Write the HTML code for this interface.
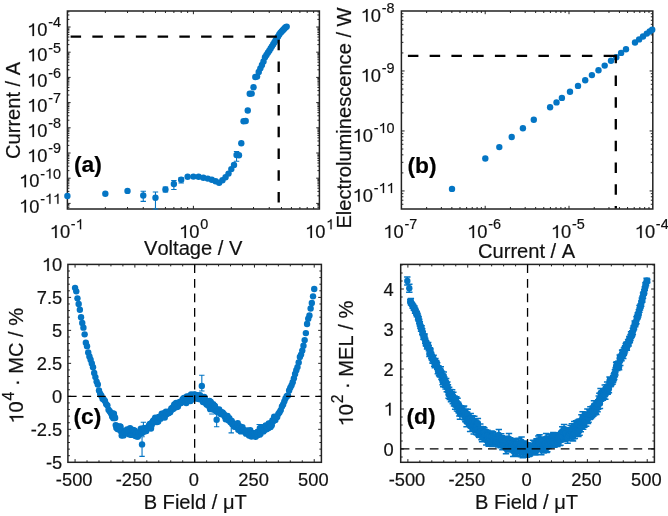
<!DOCTYPE html>
<html><head><meta charset="utf-8"><style>
html,body{margin:0;padding:0;background:#fff;}
svg{display:block;will-change:transform;}
</style></head><body>
<svg width="668" height="516" viewBox="0 0 668 516">
<rect width="668" height="516" fill="#fff"/>
<path d="M105.33 209v-2.0M105.33 11v2.0M127.52 209v-2.0M127.52 11v2.0M143.26 209v-2.0M143.26 11v2.0M155.47 209v-2.0M155.47 11v2.0M165.45 209v-2.0M165.45 11v2.0M173.88 209v-2.0M173.88 11v2.0M181.19 209v-2.0M181.19 11v2.0M187.63 209v-2.0M187.63 11v2.0M231.33 209v-2.0M231.33 11v2.0M253.52 209v-2.0M253.52 11v2.0M269.26 209v-2.0M269.26 11v2.0M281.47 209v-2.0M281.47 11v2.0M291.45 209v-2.0M291.45 11v2.0M299.88 209v-2.0M299.88 11v2.0M307.19 209v-2.0M307.19 11v2.0M313.63 209v-2.0M313.63 11v2.0M193.4 209v-3.2M193.4 11v3.2M67.4 207.3h2.0M319.4 207.3h-2.0M67.4 205.84h2.0M319.4 205.84h-2.0M67.4 204.55h2.0M319.4 204.55h-2.0M67.4 195.81h2.0M319.4 195.81h-2.0M67.4 191.38h2.0M319.4 191.38h-2.0M67.4 188.23h2.0M319.4 188.23h-2.0M67.4 185.79h2.0M319.4 185.79h-2.0M67.4 183.79h2.0M319.4 183.79h-2.0M67.4 182.1h2.0M319.4 182.1h-2.0M67.4 180.64h2.0M319.4 180.64h-2.0M67.4 179.35h2.0M319.4 179.35h-2.0M67.4 170.61h2.0M319.4 170.61h-2.0M67.4 166.18h2.0M319.4 166.18h-2.0M67.4 163.03h2.0M319.4 163.03h-2.0M67.4 160.59h2.0M319.4 160.59h-2.0M67.4 158.59h2.0M319.4 158.59h-2.0M67.4 156.9h2.0M319.4 156.9h-2.0M67.4 155.44h2.0M319.4 155.44h-2.0M67.4 154.15h2.0M319.4 154.15h-2.0M67.4 145.41h2.0M319.4 145.41h-2.0M67.4 140.98h2.0M319.4 140.98h-2.0M67.4 137.83h2.0M319.4 137.83h-2.0M67.4 135.39h2.0M319.4 135.39h-2.0M67.4 133.39h2.0M319.4 133.39h-2.0M67.4 131.7h2.0M319.4 131.7h-2.0M67.4 130.24h2.0M319.4 130.24h-2.0M67.4 128.95h2.0M319.4 128.95h-2.0M67.4 120.21h2.0M319.4 120.21h-2.0M67.4 115.78h2.0M319.4 115.78h-2.0M67.4 112.63h2.0M319.4 112.63h-2.0M67.4 110.19h2.0M319.4 110.19h-2.0M67.4 108.19h2.0M319.4 108.19h-2.0M67.4 106.5h2.0M319.4 106.5h-2.0M67.4 105.04h2.0M319.4 105.04h-2.0M67.4 103.75h2.0M319.4 103.75h-2.0M67.4 95.01h2.0M319.4 95.01h-2.0M67.4 90.58h2.0M319.4 90.58h-2.0M67.4 87.43h2.0M319.4 87.43h-2.0M67.4 84.99h2.0M319.4 84.99h-2.0M67.4 82.99h2.0M319.4 82.99h-2.0M67.4 81.3h2.0M319.4 81.3h-2.0M67.4 79.84h2.0M319.4 79.84h-2.0M67.4 78.55h2.0M319.4 78.55h-2.0M67.4 69.81h2.0M319.4 69.81h-2.0M67.4 65.38h2.0M319.4 65.38h-2.0M67.4 62.23h2.0M319.4 62.23h-2.0M67.4 59.79h2.0M319.4 59.79h-2.0M67.4 57.79h2.0M319.4 57.79h-2.0M67.4 56.1h2.0M319.4 56.1h-2.0M67.4 54.64h2.0M319.4 54.64h-2.0M67.4 53.35h2.0M319.4 53.35h-2.0M67.4 44.61h2.0M319.4 44.61h-2.0M67.4 40.18h2.0M319.4 40.18h-2.0M67.4 37.03h2.0M319.4 37.03h-2.0M67.4 34.59h2.0M319.4 34.59h-2.0M67.4 32.59h2.0M319.4 32.59h-2.0M67.4 30.9h2.0M319.4 30.9h-2.0M67.4 29.44h2.0M319.4 29.44h-2.0M67.4 28.15h2.0M319.4 28.15h-2.0M67.4 19.41h2.0M319.4 19.41h-2.0M67.4 14.98h2.0M319.4 14.98h-2.0M67.4 11.83h2.0M319.4 11.83h-2.0M67.4 203.4h3.2M319.4 203.4h-3.2M67.4 178.2h3.2M319.4 178.2h-3.2M67.4 153h3.2M319.4 153h-3.2M67.4 127.8h3.2M319.4 127.8h-3.2M67.4 102.6h3.2M319.4 102.6h-3.2M67.4 77.4h3.2M319.4 77.4h-3.2M67.4 52.2h3.2M319.4 52.2h-3.2M67.4 27h3.2M319.4 27h-3.2" stroke="#222222" stroke-width="1.0" fill="none"/>
<rect x="67.4" y="11" width="252" height="198" fill="none" stroke="#222222" stroke-width="1.5"/>
<path d="M426.63 209v-2.0M426.63 11v2.0M441.38 209v-2.0M441.38 11v2.0M451.85 209v-2.0M451.85 11v2.0M459.97 209v-2.0M459.97 11v2.0M466.61 209v-2.0M466.61 11v2.0M472.22 209v-2.0M472.22 11v2.0M477.08 209v-2.0M477.08 11v2.0M481.37 209v-2.0M481.37 11v2.0M510.43 209v-2.0M510.43 11v2.0M525.18 209v-2.0M525.18 11v2.0M535.65 209v-2.0M535.65 11v2.0M543.77 209v-2.0M543.77 11v2.0M550.41 209v-2.0M550.41 11v2.0M556.02 209v-2.0M556.02 11v2.0M560.88 209v-2.0M560.88 11v2.0M565.17 209v-2.0M565.17 11v2.0M594.23 209v-2.0M594.23 11v2.0M608.98 209v-2.0M608.98 11v2.0M619.45 209v-2.0M619.45 11v2.0M627.57 209v-2.0M627.57 11v2.0M634.21 209v-2.0M634.21 11v2.0M639.82 209v-2.0M639.82 11v2.0M644.68 209v-2.0M644.68 11v2.0M648.97 209v-2.0M648.97 11v2.0M485.2 209v-3.2M485.2 11v3.2M569 209v-3.2M569 11v3.2M401.4 204.25h2.0M652.8 204.25h-2.0M401.4 200.23h2.0M652.8 200.23h-2.0M401.4 196.75h2.0M652.8 196.75h-2.0M401.4 193.68h2.0M652.8 193.68h-2.0M401.4 172.88h2.0M652.8 172.88h-2.0M401.4 162.32h2.0M652.8 162.32h-2.0M401.4 154.83h2.0M652.8 154.83h-2.0M401.4 149.02h2.0M652.8 149.02h-2.0M401.4 144.27h2.0M652.8 144.27h-2.0M401.4 140.25h2.0M652.8 140.25h-2.0M401.4 136.77h2.0M652.8 136.77h-2.0M401.4 133.7h2.0M652.8 133.7h-2.0M401.4 112.9h2.0M652.8 112.9h-2.0M401.4 102.34h2.0M652.8 102.34h-2.0M401.4 94.85h2.0M652.8 94.85h-2.0M401.4 89.04h2.0M652.8 89.04h-2.0M401.4 84.29h2.0M652.8 84.29h-2.0M401.4 80.27h2.0M652.8 80.27h-2.0M401.4 76.79h2.0M652.8 76.79h-2.0M401.4 73.72h2.0M652.8 73.72h-2.0M401.4 52.92h2.0M652.8 52.92h-2.0M401.4 42.36h2.0M652.8 42.36h-2.0M401.4 34.87h2.0M652.8 34.87h-2.0M401.4 29.06h2.0M652.8 29.06h-2.0M401.4 24.31h2.0M652.8 24.31h-2.0M401.4 20.29h2.0M652.8 20.29h-2.0M401.4 16.81h2.0M652.8 16.81h-2.0M401.4 13.74h2.0M652.8 13.74h-2.0M401.4 190.94h3.2M652.8 190.94h-3.2M401.4 130.96h3.2M652.8 130.96h-3.2M401.4 70.98h3.2M652.8 70.98h-3.2" stroke="#222222" stroke-width="1.0" fill="none"/>
<rect x="401.4" y="11" width="251.4" height="198" fill="none" stroke="#222222" stroke-width="1.5"/>
<path d="M87.03 462.3v-2.0M87.03 264.4v2.0M98.99 462.3v-2.0M98.99 264.4v2.0M110.95 462.3v-2.0M110.95 264.4v2.0M122.9 462.3v-2.0M122.9 264.4v2.0M146.82 462.3v-2.0M146.82 264.4v2.0M158.78 462.3v-2.0M158.78 264.4v2.0M170.73 462.3v-2.0M170.73 264.4v2.0M182.69 462.3v-2.0M182.69 264.4v2.0M206.61 462.3v-2.0M206.61 264.4v2.0M218.57 462.3v-2.0M218.57 264.4v2.0M230.52 462.3v-2.0M230.52 264.4v2.0M242.48 462.3v-2.0M242.48 264.4v2.0M266.4 462.3v-2.0M266.4 264.4v2.0M278.35 462.3v-2.0M278.35 264.4v2.0M290.31 462.3v-2.0M290.31 264.4v2.0M302.27 462.3v-2.0M302.27 264.4v2.0M75.07 462.3v-3.2M75.07 264.4v3.2M134.86 462.3v-3.2M134.86 264.4v3.2M194.65 462.3v-3.2M194.65 264.4v3.2M254.44 462.3v-3.2M254.44 264.4v3.2M314.23 462.3v-3.2M314.23 264.4v3.2M67.9 455.7h2.0M321.4 455.7h-2.0M67.9 449.11h2.0M321.4 449.11h-2.0M67.9 442.51h2.0M321.4 442.51h-2.0M67.9 435.91h2.0M321.4 435.91h-2.0M67.9 422.72h2.0M321.4 422.72h-2.0M67.9 416.12h2.0M321.4 416.12h-2.0M67.9 409.53h2.0M321.4 409.53h-2.0M67.9 402.93h2.0M321.4 402.93h-2.0M67.9 389.74h2.0M321.4 389.74h-2.0M67.9 383.14h2.0M321.4 383.14h-2.0M67.9 376.54h2.0M321.4 376.54h-2.0M67.9 369.95h2.0M321.4 369.95h-2.0M67.9 356.75h2.0M321.4 356.75h-2.0M67.9 350.16h2.0M321.4 350.16h-2.0M67.9 343.56h2.0M321.4 343.56h-2.0M67.9 336.96h2.0M321.4 336.96h-2.0M67.9 323.77h2.0M321.4 323.77h-2.0M67.9 317.17h2.0M321.4 317.17h-2.0M67.9 310.58h2.0M321.4 310.58h-2.0M67.9 303.98h2.0M321.4 303.98h-2.0M67.9 290.79h2.0M321.4 290.79h-2.0M67.9 284.19h2.0M321.4 284.19h-2.0M67.9 277.59h2.0M321.4 277.59h-2.0M67.9 271h2.0M321.4 271h-2.0M67.9 429.32h3.2M321.4 429.32h-3.2M67.9 396.33h3.2M321.4 396.33h-3.2M67.9 363.35h3.2M321.4 363.35h-3.2M67.9 330.37h3.2M321.4 330.37h-3.2M67.9 297.38h3.2M321.4 297.38h-3.2" stroke="#222222" stroke-width="1.0" fill="none"/>
<rect x="67.9" y="264.4" width="253.5" height="197.9" fill="none" stroke="#222222" stroke-width="1.5"/>
<path d="M419.85 462.3v-2.0M419.85 264.4v2.0M431.81 462.3v-2.0M431.81 264.4v2.0M443.78 462.3v-2.0M443.78 264.4v2.0M455.75 462.3v-2.0M455.75 264.4v2.0M479.68 462.3v-2.0M479.68 264.4v2.0M491.65 462.3v-2.0M491.65 264.4v2.0M503.62 462.3v-2.0M503.62 264.4v2.0M515.58 462.3v-2.0M515.58 264.4v2.0M539.52 462.3v-2.0M539.52 264.4v2.0M551.48 462.3v-2.0M551.48 264.4v2.0M563.45 462.3v-2.0M563.45 264.4v2.0M575.42 462.3v-2.0M575.42 264.4v2.0M599.35 462.3v-2.0M599.35 264.4v2.0M611.32 462.3v-2.0M611.32 264.4v2.0M623.29 462.3v-2.0M623.29 264.4v2.0M635.25 462.3v-2.0M635.25 264.4v2.0M407.88 462.3v-3.2M407.88 264.4v3.2M467.72 462.3v-3.2M467.72 264.4v3.2M527.55 462.3v-3.2M527.55 264.4v3.2M587.38 462.3v-3.2M587.38 264.4v3.2M647.22 462.3v-3.2M647.22 264.4v3.2M400.7 457h2.0M654.4 457h-2.0M400.7 441h2.0M654.4 441h-2.0M400.7 433h2.0M654.4 433h-2.0M400.7 425h2.0M654.4 425h-2.0M400.7 417h2.0M654.4 417h-2.0M400.7 401h2.0M654.4 401h-2.0M400.7 393h2.0M654.4 393h-2.0M400.7 385h2.0M654.4 385h-2.0M400.7 377h2.0M654.4 377h-2.0M400.7 361h2.0M654.4 361h-2.0M400.7 353h2.0M654.4 353h-2.0M400.7 345h2.0M654.4 345h-2.0M400.7 337h2.0M654.4 337h-2.0M400.7 321h2.0M654.4 321h-2.0M400.7 313h2.0M654.4 313h-2.0M400.7 305h2.0M654.4 305h-2.0M400.7 297h2.0M654.4 297h-2.0M400.7 281h2.0M654.4 281h-2.0M400.7 273h2.0M654.4 273h-2.0M400.7 265h2.0M654.4 265h-2.0M400.7 449h3.2M654.4 449h-3.2M400.7 409h3.2M654.4 409h-3.2M400.7 369h3.2M654.4 369h-3.2M400.7 329h3.2M654.4 329h-3.2M400.7 289h3.2M654.4 289h-3.2" stroke="#222222" stroke-width="1.0" fill="none"/>
<rect x="400.7" y="264.4" width="253.7" height="197.9" fill="none" stroke="#222222" stroke-width="1.5"/>
<g fill="#0475C4">
<circle cx="67.4" cy="196" r="3.2"/><circle cx="105.33" cy="193.7" r="3.2"/><circle cx="127.52" cy="190.9" r="3.2"/><circle cx="143.26" cy="195.5" r="3.2"/><circle cx="155.47" cy="197.8" r="3.2"/><circle cx="165.45" cy="189.5" r="3.2"/><circle cx="173.88" cy="184" r="3.2"/><circle cx="181.19" cy="179.8" r="3.2"/><circle cx="187.63" cy="176.7" r="3.2"/><circle cx="193.4" cy="176.6" r="3.2"/><circle cx="198.62" cy="176.7" r="3.2"/><circle cx="203.38" cy="177.7" r="3.2"/><circle cx="207.76" cy="178.6" r="3.2"/><circle cx="211.81" cy="179.7" r="3.2"/><circle cx="215.59" cy="181.2" r="3.2"/><circle cx="219.12" cy="182.8" r="3.2"/><circle cx="222.44" cy="180.3" r="3.2"/><circle cx="225.56" cy="177.2" r="3.2"/><circle cx="228.52" cy="173.6" r="3.2"/><circle cx="231.33" cy="169.1" r="3.2"/><circle cx="234" cy="164.9" r="3.2"/><circle cx="236.55" cy="155" r="3.2"/><circle cx="238.98" cy="155.2" r="3.2"/><circle cx="241.31" cy="143.3" r="3.2"/><circle cx="243.54" cy="121.2" r="3.2"/><circle cx="245.69" cy="121" r="3.2"/><circle cx="247.75" cy="110.5" r="3.2"/><circle cx="249.74" cy="93.8" r="3.2"/><circle cx="251.66" cy="93.6" r="3.2"/><circle cx="253.52" cy="87.2" r="3.2"/><circle cx="255.31" cy="77" r="3.2"/><circle cx="257.05" cy="76.6" r="3.2"/><circle cx="258.73" cy="71.93" r="3.2"/><circle cx="260.37" cy="68.36" r="3.2"/><circle cx="261.95" cy="64.89" r="3.2"/><circle cx="263.49" cy="61.51" r="3.2"/><circle cx="264.99" cy="57.21" r="3.2"/><circle cx="266.45" cy="54.99" r="3.2"/><circle cx="267.87" cy="52.82" r="3.2"/><circle cx="269.26" cy="50.72" r="3.2"/><circle cx="270.61" cy="48.54" r="3.2"/><circle cx="271.93" cy="46.37" r="3.2"/><circle cx="273.22" cy="44.26" r="3.2"/><circle cx="274.48" cy="42.19" r="3.2"/><circle cx="275.7" cy="40.19" r="3.2"/><circle cx="276.91" cy="38.27" r="3.2"/><circle cx="278.08" cy="36.39" r="3.2"/><circle cx="279.24" cy="34.54" r="3.2"/><circle cx="280.36" cy="32.83" r="3.2"/><circle cx="281.47" cy="31.67" r="3.2"/><circle cx="282.55" cy="30.53" r="3.2"/><circle cx="283.62" cy="29.42" r="3.2"/><circle cx="284.66" cy="28.32" r="3.2"/><circle cx="285.68" cy="27.25" r="3.2"/><circle cx="286.69" cy="26.6" r="3.2"/>
</g>
<path d="M143.26 191.3V201.4M140.56 191.3h5.4M140.56 201.4h5.4M155.47 192V209M152.77 192h5.4M152.77 209h5.4M165.45 187V192M162.75 187h5.4M162.75 192h5.4M173.88 180.5V189.5M171.18 180.5h5.4M171.18 189.5h5.4M181.19 177.7V183M178.49 177.7h5.4M178.49 183h5.4M236.55 151.5V161.2M233.85 151.5h5.4M233.85 161.2h5.4" stroke="#0475C4" stroke-width="1.1" fill="none"/>
<g fill="#0475C4">
<circle cx="452" cy="188.9" r="3.2"/><circle cx="485.3" cy="158.5" r="3.2"/><circle cx="499.3" cy="147.1" r="3.2"/><circle cx="511.7" cy="137" r="3.2"/><circle cx="522.9" cy="128.3" r="3.2"/><circle cx="533.8" cy="119.8" r="3.2"/><circle cx="550.1" cy="107.2" r="3.2"/><circle cx="556.5" cy="102.4" r="3.2"/><circle cx="561.9" cy="97.9" r="3.2"/><circle cx="570" cy="91.7" r="3.2"/><circle cx="578" cy="85.9" r="3.2"/><circle cx="585.2" cy="80.3" r="3.2"/><circle cx="591.9" cy="75.1" r="3.2"/><circle cx="598.5" cy="70.2" r="3.2"/><circle cx="604.7" cy="65.6" r="3.2"/><circle cx="611" cy="60.8" r="3.2"/><circle cx="616.3" cy="57.3" r="3.2"/><circle cx="621.1" cy="52.9" r="3.2"/><circle cx="626" cy="49.3" r="3.2"/><circle cx="635" cy="42.5" r="3.2"/><circle cx="639.1" cy="39.4" r="3.2"/><circle cx="643" cy="36.5" r="3.2"/><circle cx="646.8" cy="33.6" r="3.2"/><circle cx="649.7" cy="31.4" r="3.2"/><circle cx="652.2" cy="29.7" r="3.2"/>
</g>
<path d="M142.04 436.8V456.4M139.34 436.8h5.4M139.34 456.4h5.4M201.82 375.2V391M199.12 375.2h5.4M199.12 391h5.4M216.65 413.5V426.7M213.95 413.5h5.4M213.95 426.7h5.4M143.4 422.2V434M140.7 422.2h5.4M140.7 434h5.4M231.24 420V432.9M228.54 420h5.4M228.54 432.9h5.4M259.22 424.5V437M256.52 424.5h5.4M256.52 437h5.4M211.87 414V414M209.17 414h5.4M209.17 414h5.4" stroke="#0475C4" stroke-width="1.1" fill="none"/>
<g fill="#0475C4">
<circle cx="75.07" cy="287.87" r="3.2"/><circle cx="76.27" cy="291.35" r="3.2"/><circle cx="77.47" cy="298.37" r="3.2"/><circle cx="78.66" cy="303.97" r="3.2"/><circle cx="79.86" cy="309.8" r="3.2"/><circle cx="81.05" cy="317.26" r="3.2"/><circle cx="82.25" cy="322.89" r="3.2"/><circle cx="83.44" cy="327.63" r="3.2"/><circle cx="84.64" cy="334.36" r="3.2"/><circle cx="85.84" cy="342.69" r="3.2"/><circle cx="87.03" cy="346.16" r="3.2"/><circle cx="88.23" cy="352.49" r="3.2"/><circle cx="89.42" cy="356.55" r="3.2"/><circle cx="90.62" cy="359.74" r="3.2"/><circle cx="91.82" cy="363.48" r="3.2"/><circle cx="93.01" cy="367.23" r="3.2"/><circle cx="94.21" cy="372.91" r="3.2"/><circle cx="95.4" cy="377.12" r="3.2"/><circle cx="96.6" cy="381.58" r="3.2"/><circle cx="97.79" cy="384.56" r="3.2"/><circle cx="98.99" cy="390.52" r="3.2"/><circle cx="100.19" cy="393.68" r="3.2"/><circle cx="101.38" cy="395.74" r="3.2"/><circle cx="102.58" cy="398.69" r="3.2"/><circle cx="103.77" cy="399.52" r="3.2"/><circle cx="104.97" cy="401.07" r="3.2"/><circle cx="106.16" cy="404.09" r="3.2"/><circle cx="107.36" cy="405.35" r="3.2"/><circle cx="108.56" cy="409.74" r="3.2"/><circle cx="109.75" cy="411.15" r="3.2"/><circle cx="110.95" cy="413.17" r="3.2"/><circle cx="112.14" cy="416.48" r="3.2"/><circle cx="112.74" cy="413.54" r="3.2"/><circle cx="113.34" cy="418.15" r="3.2"/><circle cx="113.94" cy="413.66" r="3.2"/><circle cx="114.53" cy="416.86" r="3.2"/><circle cx="115.13" cy="417.94" r="3.2"/><circle cx="115.73" cy="425.11" r="3.2"/><circle cx="116.33" cy="427.79" r="3.2"/><circle cx="116.93" cy="425.91" r="3.2"/><circle cx="117.52" cy="428.9" r="3.2"/><circle cx="118.12" cy="427.53" r="3.2"/><circle cx="118.72" cy="429.53" r="3.2"/><circle cx="119.32" cy="427.59" r="3.2"/><circle cx="119.92" cy="426.35" r="3.2"/><circle cx="120.51" cy="426.75" r="3.2"/><circle cx="121.11" cy="431.47" r="3.2"/><circle cx="121.71" cy="435.59" r="3.2"/><circle cx="122.31" cy="432.15" r="3.2"/><circle cx="122.9" cy="430.71" r="3.2"/><circle cx="123.5" cy="435.41" r="3.2"/><circle cx="124.1" cy="432.3" r="3.2"/><circle cx="124.7" cy="432.12" r="3.2"/><circle cx="125.3" cy="432.48" r="3.2"/><circle cx="125.89" cy="431.82" r="3.2"/><circle cx="126.49" cy="431.55" r="3.2"/><circle cx="127.09" cy="429.46" r="3.2"/><circle cx="127.69" cy="433.07" r="3.2"/><circle cx="128.29" cy="431.87" r="3.2"/><circle cx="128.88" cy="434.24" r="3.2"/><circle cx="129.48" cy="431.2" r="3.2"/><circle cx="130.08" cy="428.21" r="3.2"/><circle cx="130.68" cy="431.57" r="3.2"/><circle cx="131.27" cy="434.92" r="3.2"/><circle cx="131.87" cy="430.89" r="3.2"/><circle cx="132.47" cy="430.14" r="3.2"/><circle cx="133.07" cy="429.85" r="3.2"/><circle cx="133.67" cy="430.4" r="3.2"/><circle cx="134.26" cy="432.12" r="3.2"/><circle cx="134.86" cy="430.73" r="3.2"/><circle cx="135.46" cy="436.11" r="3.2"/><circle cx="136.06" cy="433.01" r="3.2"/><circle cx="136.66" cy="434.04" r="3.2"/><circle cx="137.25" cy="436.61" r="3.2"/><circle cx="137.85" cy="436.43" r="3.2"/><circle cx="138.45" cy="432.87" r="3.2"/><circle cx="139.05" cy="433.61" r="3.2"/><circle cx="139.65" cy="434.07" r="3.2"/><circle cx="140.24" cy="432.01" r="3.2"/><circle cx="140.84" cy="428.7" r="3.2"/><circle cx="141.44" cy="432.91" r="3.2"/><circle cx="142.04" cy="432.92" r="3.2"/><circle cx="142.63" cy="431.56" r="3.2"/><circle cx="143.23" cy="428.57" r="3.2"/><circle cx="143.83" cy="429.5" r="3.2"/><circle cx="144.43" cy="428.31" r="3.2"/><circle cx="145.03" cy="428.41" r="3.2"/><circle cx="145.62" cy="430.96" r="3.2"/><circle cx="146.22" cy="430.93" r="3.2"/><circle cx="146.82" cy="428.82" r="3.2"/><circle cx="147.42" cy="428.11" r="3.2"/><circle cx="148.02" cy="427.87" r="3.2"/><circle cx="148.61" cy="426.09" r="3.2"/><circle cx="149.21" cy="425.49" r="3.2"/><circle cx="149.81" cy="423.87" r="3.2"/><circle cx="150.41" cy="424.54" r="3.2"/><circle cx="151" cy="428.43" r="3.2"/><circle cx="151.6" cy="425.27" r="3.2"/><circle cx="152.2" cy="422.46" r="3.2"/><circle cx="152.8" cy="421.7" r="3.2"/><circle cx="153.4" cy="420.44" r="3.2"/><circle cx="153.99" cy="422.28" r="3.2"/><circle cx="154.59" cy="421.79" r="3.2"/><circle cx="155.19" cy="417.82" r="3.2"/><circle cx="155.79" cy="421.04" r="3.2"/><circle cx="156.39" cy="418.59" r="3.2"/><circle cx="156.98" cy="421.94" r="3.2"/><circle cx="157.58" cy="419.09" r="3.2"/><circle cx="158.18" cy="421.61" r="3.2"/><circle cx="158.78" cy="417.03" r="3.2"/><circle cx="159.38" cy="416.92" r="3.2"/><circle cx="159.97" cy="417.59" r="3.2"/><circle cx="160.57" cy="418.66" r="3.2"/><circle cx="161.17" cy="417.37" r="3.2"/><circle cx="161.77" cy="413.6" r="3.2"/><circle cx="162.36" cy="415.93" r="3.2"/><circle cx="162.96" cy="415.26" r="3.2"/><circle cx="163.56" cy="414.05" r="3.2"/><circle cx="164.16" cy="413.27" r="3.2"/><circle cx="164.76" cy="417.47" r="3.2"/><circle cx="165.35" cy="413.01" r="3.2"/><circle cx="165.95" cy="411.73" r="3.2"/><circle cx="166.55" cy="414.13" r="3.2"/><circle cx="167.15" cy="412.74" r="3.2"/><circle cx="167.75" cy="411.93" r="3.2"/><circle cx="168.34" cy="413.14" r="3.2"/><circle cx="168.94" cy="412.17" r="3.2"/><circle cx="169.54" cy="411.51" r="3.2"/><circle cx="170.14" cy="412.25" r="3.2"/><circle cx="170.73" cy="410.58" r="3.2"/><circle cx="171.33" cy="408.5" r="3.2"/><circle cx="171.93" cy="408.61" r="3.2"/><circle cx="172.53" cy="407.94" r="3.2"/><circle cx="173.13" cy="408.96" r="3.2"/><circle cx="173.72" cy="406.14" r="3.2"/><circle cx="174.32" cy="404.34" r="3.2"/><circle cx="174.92" cy="407.62" r="3.2"/><circle cx="175.52" cy="404.53" r="3.2"/><circle cx="176.12" cy="402.98" r="3.2"/><circle cx="176.71" cy="407.01" r="3.2"/><circle cx="177.31" cy="404.57" r="3.2"/><circle cx="177.91" cy="406.48" r="3.2"/><circle cx="178.51" cy="404.15" r="3.2"/><circle cx="179.11" cy="402.64" r="3.2"/><circle cx="179.7" cy="402.03" r="3.2"/><circle cx="180.3" cy="402.99" r="3.2"/><circle cx="180.9" cy="403" r="3.2"/><circle cx="181.5" cy="401.5" r="3.2"/><circle cx="182.09" cy="402.07" r="3.2"/><circle cx="182.69" cy="399.24" r="3.2"/><circle cx="183.29" cy="401.73" r="3.2"/><circle cx="183.89" cy="397.84" r="3.2"/><circle cx="184.49" cy="400.42" r="3.2"/><circle cx="185.08" cy="401.68" r="3.2"/><circle cx="185.68" cy="402.09" r="3.2"/><circle cx="186.28" cy="402.94" r="3.2"/><circle cx="186.88" cy="396.39" r="3.2"/><circle cx="187.48" cy="400.46" r="3.2"/><circle cx="188.07" cy="400.97" r="3.2"/><circle cx="188.67" cy="400.21" r="3.2"/><circle cx="189.27" cy="396.24" r="3.2"/><circle cx="189.87" cy="398.46" r="3.2"/><circle cx="190.46" cy="401.01" r="3.2"/><circle cx="191.06" cy="394.48" r="3.2"/><circle cx="191.66" cy="398.07" r="3.2"/><circle cx="192.26" cy="399.13" r="3.2"/><circle cx="192.86" cy="395.53" r="3.2"/><circle cx="193.45" cy="397.81" r="3.2"/><circle cx="194.05" cy="394.51" r="3.2"/><circle cx="194.65" cy="394.85" r="3.2"/><circle cx="195.25" cy="394.81" r="3.2"/><circle cx="195.85" cy="396.89" r="3.2"/><circle cx="196.44" cy="396.5" r="3.2"/><circle cx="197.04" cy="398.64" r="3.2"/><circle cx="197.64" cy="395.2" r="3.2"/><circle cx="198.24" cy="396.89" r="3.2"/><circle cx="198.84" cy="399.12" r="3.2"/><circle cx="199.43" cy="398.52" r="3.2"/><circle cx="200.03" cy="395.1" r="3.2"/><circle cx="200.63" cy="399.29" r="3.2"/><circle cx="201.23" cy="397.53" r="3.2"/><circle cx="201.82" cy="399.57" r="3.2"/><circle cx="202.42" cy="399.82" r="3.2"/><circle cx="203.02" cy="401.97" r="3.2"/><circle cx="203.62" cy="400.28" r="3.2"/><circle cx="204.22" cy="396.94" r="3.2"/><circle cx="204.81" cy="398.27" r="3.2"/><circle cx="205.41" cy="402.73" r="3.2"/><circle cx="206.01" cy="401.34" r="3.2"/><circle cx="206.61" cy="404.48" r="3.2"/><circle cx="207.21" cy="403.33" r="3.2"/><circle cx="207.8" cy="401.88" r="3.2"/><circle cx="208.4" cy="405.85" r="3.2"/><circle cx="209" cy="402.75" r="3.2"/><circle cx="209.6" cy="400.87" r="3.2"/><circle cx="210.19" cy="409.17" r="3.2"/><circle cx="210.79" cy="402.06" r="3.2"/><circle cx="211.39" cy="407.34" r="3.2"/><circle cx="211.99" cy="408.36" r="3.2"/><circle cx="212.59" cy="407.29" r="3.2"/><circle cx="213.18" cy="404.26" r="3.2"/><circle cx="213.78" cy="409.83" r="3.2"/><circle cx="214.38" cy="405.6" r="3.2"/><circle cx="214.98" cy="406.23" r="3.2"/><circle cx="215.58" cy="408.52" r="3.2"/><circle cx="216.17" cy="411.12" r="3.2"/><circle cx="216.77" cy="410.61" r="3.2"/><circle cx="217.37" cy="412" r="3.2"/><circle cx="217.97" cy="410.03" r="3.2"/><circle cx="218.57" cy="410.97" r="3.2"/><circle cx="219.16" cy="409.55" r="3.2"/><circle cx="219.76" cy="411.53" r="3.2"/><circle cx="220.36" cy="413.64" r="3.2"/><circle cx="220.96" cy="412.3" r="3.2"/><circle cx="221.55" cy="414.14" r="3.2"/><circle cx="222.15" cy="412.5" r="3.2"/><circle cx="222.75" cy="412.82" r="3.2"/><circle cx="223.35" cy="414.38" r="3.2"/><circle cx="223.95" cy="414.3" r="3.2"/><circle cx="224.54" cy="416.15" r="3.2"/><circle cx="225.14" cy="415.78" r="3.2"/><circle cx="225.74" cy="419.36" r="3.2"/><circle cx="226.34" cy="416.25" r="3.2"/><circle cx="226.94" cy="416.84" r="3.2"/><circle cx="227.53" cy="415.91" r="3.2"/><circle cx="228.13" cy="418.54" r="3.2"/><circle cx="228.73" cy="420.4" r="3.2"/><circle cx="229.33" cy="418.31" r="3.2"/><circle cx="229.92" cy="420.23" r="3.2"/><circle cx="230.52" cy="422.23" r="3.2"/><circle cx="231.12" cy="421.14" r="3.2"/><circle cx="231.72" cy="420.93" r="3.2"/><circle cx="232.32" cy="424.29" r="3.2"/><circle cx="232.91" cy="423.15" r="3.2"/><circle cx="233.51" cy="424.24" r="3.2"/><circle cx="234.11" cy="426.24" r="3.2"/><circle cx="234.71" cy="426.72" r="3.2"/><circle cx="235.31" cy="424.37" r="3.2"/><circle cx="235.9" cy="424.49" r="3.2"/><circle cx="236.5" cy="426.48" r="3.2"/><circle cx="237.1" cy="426.14" r="3.2"/><circle cx="237.7" cy="423.24" r="3.2"/><circle cx="238.3" cy="429.73" r="3.2"/><circle cx="238.89" cy="427.8" r="3.2"/><circle cx="239.49" cy="429.61" r="3.2"/><circle cx="240.09" cy="426.42" r="3.2"/><circle cx="240.69" cy="431.42" r="3.2"/><circle cx="241.28" cy="428.18" r="3.2"/><circle cx="241.88" cy="429.41" r="3.2"/><circle cx="242.48" cy="427.28" r="3.2"/><circle cx="243.08" cy="429.94" r="3.2"/><circle cx="243.68" cy="430.15" r="3.2"/><circle cx="244.27" cy="430.56" r="3.2"/><circle cx="244.87" cy="432.06" r="3.2"/><circle cx="245.47" cy="431.63" r="3.2"/><circle cx="246.07" cy="433.65" r="3.2"/><circle cx="246.67" cy="431.18" r="3.2"/><circle cx="247.26" cy="430.45" r="3.2"/><circle cx="247.86" cy="432.58" r="3.2"/><circle cx="248.46" cy="434.09" r="3.2"/><circle cx="249.06" cy="435.53" r="3.2"/><circle cx="249.65" cy="434.99" r="3.2"/><circle cx="250.25" cy="430.28" r="3.2"/><circle cx="250.85" cy="434.44" r="3.2"/><circle cx="251.45" cy="436.58" r="3.2"/><circle cx="252.05" cy="434.01" r="3.2"/><circle cx="252.64" cy="432.99" r="3.2"/><circle cx="253.24" cy="434.64" r="3.2"/><circle cx="253.84" cy="433.18" r="3.2"/><circle cx="254.44" cy="435.44" r="3.2"/><circle cx="255.04" cy="434.26" r="3.2"/><circle cx="255.63" cy="436.72" r="3.2"/><circle cx="256.23" cy="434.81" r="3.2"/><circle cx="256.83" cy="432.27" r="3.2"/><circle cx="257.43" cy="434.58" r="3.2"/><circle cx="258.02" cy="434.99" r="3.2"/><circle cx="258.62" cy="431.92" r="3.2"/><circle cx="259.22" cy="431.97" r="3.2"/><circle cx="259.82" cy="428.19" r="3.2"/><circle cx="260.42" cy="433.91" r="3.2"/><circle cx="261.01" cy="430.63" r="3.2"/><circle cx="261.61" cy="427.27" r="3.2"/><circle cx="262.21" cy="427.5" r="3.2"/><circle cx="262.81" cy="430" r="3.2"/><circle cx="263.41" cy="431.42" r="3.2"/><circle cx="264" cy="429.37" r="3.2"/><circle cx="264.6" cy="429.99" r="3.2"/><circle cx="265.2" cy="426.52" r="3.2"/><circle cx="265.8" cy="425.5" r="3.2"/><circle cx="266.4" cy="429.17" r="3.2"/><circle cx="266.99" cy="427.86" r="3.2"/><circle cx="267.59" cy="426.31" r="3.2"/><circle cx="268.19" cy="428.24" r="3.2"/><circle cx="268.79" cy="423.43" r="3.2"/><circle cx="269.38" cy="423.88" r="3.2"/><circle cx="269.98" cy="426.07" r="3.2"/><circle cx="270.58" cy="426.96" r="3.2"/><circle cx="271.18" cy="422.84" r="3.2"/><circle cx="271.78" cy="425.37" r="3.2"/><circle cx="272.37" cy="420.39" r="3.2"/><circle cx="272.97" cy="421.52" r="3.2"/><circle cx="273.57" cy="419.91" r="3.2"/><circle cx="274.17" cy="416.58" r="3.2"/><circle cx="274.77" cy="419.44" r="3.2"/><circle cx="275.36" cy="420.03" r="3.2"/><circle cx="275.96" cy="417.25" r="3.2"/><circle cx="276.56" cy="416.66" r="3.2"/><circle cx="277.16" cy="416.9" r="3.2"/><circle cx="278.35" cy="413.86" r="3.2"/><circle cx="279.55" cy="412.25" r="3.2"/><circle cx="280.74" cy="410.11" r="3.2"/><circle cx="281.94" cy="406.4" r="3.2"/><circle cx="283.14" cy="404.55" r="3.2"/><circle cx="284.33" cy="401.37" r="3.2"/><circle cx="285.53" cy="398.35" r="3.2"/><circle cx="286.72" cy="396.17" r="3.2"/><circle cx="287.92" cy="395.51" r="3.2"/><circle cx="289.11" cy="390.56" r="3.2"/><circle cx="290.31" cy="387.6" r="3.2"/><circle cx="291.51" cy="385.37" r="3.2"/><circle cx="292.7" cy="382.25" r="3.2"/><circle cx="293.9" cy="378.35" r="3.2"/><circle cx="295.09" cy="374.03" r="3.2"/><circle cx="296.29" cy="370.24" r="3.2"/><circle cx="297.48" cy="367.12" r="3.2"/><circle cx="298.68" cy="362.49" r="3.2"/><circle cx="299.88" cy="357.06" r="3.2"/><circle cx="301.07" cy="354.62" r="3.2"/><circle cx="302.27" cy="350.62" r="3.2"/><circle cx="303.46" cy="345.71" r="3.2"/><circle cx="304.66" cy="340.11" r="3.2"/><circle cx="305.86" cy="333.1" r="3.2"/><circle cx="307.05" cy="323.99" r="3.2"/><circle cx="308.25" cy="318.73" r="3.2"/><circle cx="309.44" cy="315.56" r="3.2"/><circle cx="310.64" cy="308.52" r="3.2"/><circle cx="311.83" cy="303.04" r="3.2"/><circle cx="313.03" cy="296.35" r="3.2"/><circle cx="314.23" cy="288.95" r="3.2"/>
<circle cx="142.04" cy="444.4" r="3.2"/><circle cx="201.82" cy="386" r="3.2"/><circle cx="216.65" cy="419.7" r="3.2"/>
</g>
<path d="M407.3 277V285M404.1 277h6.4M404.1 285h6.4M409.3 284.3V292.3M406.1 284.3h6.4M406.1 292.3h6.4M410.27 299.59V302.94M407.07 299.59h6.4M407.07 302.94h6.4M410.87 298.58V304.76M407.67 298.58h6.4M407.67 304.76h6.4M411.47 301.93V305.31M408.27 301.93h6.4M408.27 305.31h6.4M412.07 302.71V306.08M408.87 302.71h6.4M408.87 306.08h6.4M412.67 303.92V308.2M409.47 303.92h6.4M409.47 308.2h6.4M413.27 304.52V308.16M410.07 304.52h6.4M410.07 308.16h6.4M413.86 306.52V310.34M410.66 306.52h6.4M410.66 310.34h6.4M414.46 305.91V310.47M411.26 305.91h6.4M411.26 310.47h6.4M415.06 308.08V313.27M411.86 308.08h6.4M411.86 313.27h6.4M415.66 309.13V313.32M412.46 309.13h6.4M412.46 313.32h6.4M416.26 311.25V315.07M413.06 311.25h6.4M413.06 315.07h6.4M416.86 311.3V316.68M413.66 311.3h6.4M413.66 316.68h6.4M417.45 313.18V316.86M414.25 313.18h6.4M414.25 316.86h6.4M418.05 315.21V319.65M414.85 315.21h6.4M414.85 319.65h6.4M418.65 316.87V321.31M415.45 316.87h6.4M415.45 321.31h6.4M419.25 319.27V323.68M416.05 319.27h6.4M416.05 323.68h6.4M419.85 321.72V326.08M416.65 321.72h6.4M416.65 326.08h6.4M420.45 324.49V328.54M417.25 324.49h6.4M417.25 328.54h6.4M421.04 325.63V331.36M417.84 325.63h6.4M417.84 331.36h6.4M421.64 325.65V331.33M418.44 325.65h6.4M418.44 331.33h6.4M422.24 328.7V334.38M419.04 328.7h6.4M419.04 334.38h6.4M422.84 331.18V335.57M419.64 331.18h6.4M419.64 335.57h6.4M423.44 333.64V339.27M420.24 333.64h6.4M420.24 339.27h6.4M424.04 335.06V339.63M420.84 335.06h6.4M420.84 339.63h6.4M424.63 333.93V339.85M421.43 333.93h6.4M421.43 339.85h6.4M425.23 338.21V343.62M422.03 338.21h6.4M422.03 343.62h6.4M425.83 340.35V345.64M422.63 340.35h6.4M422.63 345.64h6.4M426.43 341.28V346.15M423.23 341.28h6.4M423.23 346.15h6.4M427.03 343.3V349.11M423.83 343.3h6.4M423.83 349.11h6.4M427.63 343.41V348.75M424.43 343.41h6.4M424.43 348.75h6.4M428.22 342.52V349.05M425.02 342.52h6.4M425.02 349.05h6.4M428.82 345.61V350.72M425.62 345.61h6.4M425.62 350.72h6.4M429.42 350.35V356.44M426.22 350.35h6.4M426.22 356.44h6.4M430.02 347.78V354.83M426.82 347.78h6.4M426.82 354.83h6.4M430.62 349.08V354.85M427.42 349.08h6.4M427.42 354.85h6.4M431.22 352.61V358.48M428.02 352.61h6.4M428.02 358.48h6.4M431.81 354.16V360.01M428.61 354.16h6.4M428.61 360.01h6.4M432.41 356.24V362.94M429.21 356.24h6.4M429.21 362.94h6.4M433.01 356.77V363.14M429.81 356.77h6.4M429.81 363.14h6.4M433.61 355.22V363.14M430.41 355.22h6.4M430.41 363.14h6.4M434.21 358.41V366.3M431.01 358.41h6.4M431.01 366.3h6.4M434.81 359.77V367.76M431.61 359.77h6.4M431.61 367.76h6.4M435.4 358.53V365.21M432.2 358.53h6.4M432.2 365.21h6.4M436 360.4V367.32M432.8 360.4h6.4M432.8 367.32h6.4M436.6 361.24V367.4M433.4 361.24h6.4M433.4 367.4h6.4M437.2 362.76V369.14M434 362.76h6.4M434 369.14h6.4M437.8 366.37V373.68M434.6 366.37h6.4M434.6 373.68h6.4M438.4 365.83V372.38M435.2 365.83h6.4M435.2 372.38h6.4M438.99 367.63V375.45M435.79 367.63h6.4M435.79 375.45h6.4M439.59 369.65V376.55M436.39 369.65h6.4M436.39 376.55h6.4M440.19 370.53V377.07M436.99 370.53h6.4M436.99 377.07h6.4M440.79 366.81V374.11M437.59 366.81h6.4M437.59 374.11h6.4M441.39 372.65V379.29M438.19 372.65h6.4M438.19 379.29h6.4M441.99 371.35V380.18M438.79 371.35h6.4M438.79 380.18h6.4M442.58 377.89V384.68M439.38 377.89h6.4M439.38 384.68h6.4M443.18 377.58V386.8M439.98 377.58h6.4M439.98 386.8h6.4M443.78 372.06V380M440.58 372.06h6.4M440.58 380h6.4M444.38 376.94V384.61M441.18 376.94h6.4M441.18 384.61h6.4M444.98 380.06V387.22M441.78 380.06h6.4M441.78 387.22h6.4M445.58 381.68V388.99M442.38 381.68h6.4M442.38 388.99h6.4M446.17 378.55V386.01M442.97 378.55h6.4M442.97 386.01h6.4M446.77 382.34V391.81M443.57 382.34h6.4M443.57 391.81h6.4M447.37 382.06V389.43M444.17 382.06h6.4M444.17 389.43h6.4M447.97 384.74V392.32M444.77 384.74h6.4M444.77 392.32h6.4M448.57 390.28V398.23M445.37 390.28h6.4M445.37 398.23h6.4M449.17 387.26V395.02M445.97 387.26h6.4M445.97 395.02h6.4M449.76 390.71V399.55M446.56 390.71h6.4M446.56 399.55h6.4M450.36 389.47V399.05M447.16 389.47h6.4M447.16 399.05h6.4M450.96 393.96V401.81M447.76 393.96h6.4M447.76 401.81h6.4M451.56 391.83V399.89M448.36 391.83h6.4M448.36 399.89h6.4M452.16 389.82V398.9M448.96 389.82h6.4M448.96 398.9h6.4M452.76 395.45V403.64M449.56 395.45h6.4M449.56 403.64h6.4M453.35 392.23V401.19M450.15 392.23h6.4M450.15 401.19h6.4M453.95 397.57V406.05M450.75 397.57h6.4M450.75 406.05h6.4M454.55 395.94V404.8M451.35 395.94h6.4M451.35 404.8h6.4M455.15 400.12V409.26M451.95 400.12h6.4M451.95 409.26h6.4M455.75 397.39V406.83M452.55 397.39h6.4M452.55 406.83h6.4M456.35 396.79V406.22M453.15 396.79h6.4M453.15 406.22h6.4M456.94 402V410.96M453.74 402h6.4M453.74 410.96h6.4M457.54 398.31V408.19M454.34 398.31h6.4M454.34 408.19h6.4M458.14 402.31V411.5M454.94 402.31h6.4M454.94 411.5h6.4M458.74 403.49V413.11M455.54 403.49h6.4M455.54 413.11h6.4M459.34 405.08V416.09M456.14 405.08h6.4M456.14 416.09h6.4M459.94 408.4V419.25M456.74 408.4h6.4M456.74 419.25h6.4M460.53 405.9V416M457.33 405.9h6.4M457.33 416h6.4M461.13 405.66V415.76M457.93 405.66h6.4M457.93 415.76h6.4M461.73 406.69V416.28M458.53 406.69h6.4M458.53 416.28h6.4M462.33 406.54V416.38M459.13 406.54h6.4M459.13 416.38h6.4M462.93 409.91V419.13M459.73 409.91h6.4M459.73 419.13h6.4M463.53 406.92V416.09M460.33 406.92h6.4M460.33 416.09h6.4M464.12 406V416.77M460.92 406h6.4M460.92 416.77h6.4M464.72 410.84V420.07M461.52 410.84h6.4M461.52 420.07h6.4M465.32 410.74V421.64M462.12 410.74h6.4M462.12 421.64h6.4M465.92 409.05V418.08M462.72 409.05h6.4M462.72 418.08h6.4M466.52 416.51V426.85M463.32 416.51h6.4M463.32 426.85h6.4M467.12 412.1V421.16M463.92 412.1h6.4M463.92 421.16h6.4M467.72 409.22V420.26M464.52 409.22h6.4M464.52 420.26h6.4M468.31 414.2V423.25M465.11 414.2h6.4M465.11 423.25h6.4M468.91 414.02V424.87M465.71 414.02h6.4M465.71 424.87h6.4M469.51 415.99V425.42M466.31 415.99h6.4M466.31 425.42h6.4M470.11 420.43V431.47M466.91 420.43h6.4M466.91 431.47h6.4M470.71 413.6V423.05M467.51 413.6h6.4M467.51 423.05h6.4M471.31 420.82V431.48M468.11 420.82h6.4M468.11 431.48h6.4M471.9 416.11V426.67M468.7 416.11h6.4M468.7 426.67h6.4M472.5 415.63V425.99M469.3 415.63h6.4M469.3 425.99h6.4M473.1 420.1V430.62M469.9 420.1h6.4M469.9 430.62h6.4M473.7 424.91V433.92M470.5 424.91h6.4M470.5 433.92h6.4M474.3 416.33V425.39M471.1 416.33h6.4M471.1 425.39h6.4M474.9 420.93V430.35M471.7 420.93h6.4M471.7 430.35h6.4M475.49 421.16V432.31M472.29 421.16h6.4M472.29 432.31h6.4M476.09 422.94V434.43M472.89 422.94h6.4M472.89 434.43h6.4M476.69 421.67V431.05M473.49 421.67h6.4M473.49 431.05h6.4M477.29 424.16V435.05M474.09 424.16h6.4M474.09 435.05h6.4M477.89 418.39V427.8M474.69 418.39h6.4M474.69 427.8h6.4M478.49 426.88V436.27M475.29 426.88h6.4M475.29 436.27h6.4M479.08 426.82V437.14M475.88 426.82h6.4M475.88 437.14h6.4M479.68 427.75V437.4M476.48 427.75h6.4M476.48 437.4h6.4M480.28 423.96V433.76M477.08 423.96h6.4M477.08 433.76h6.4M480.88 426.56V436.35M477.68 426.56h6.4M477.68 436.35h6.4M481.48 430.6V439.81M478.28 430.6h6.4M478.28 439.81h6.4M482.08 431.25V441.66M478.88 431.25h6.4M478.88 441.66h6.4M482.67 429.12V438.35M479.47 429.12h6.4M479.47 438.35h6.4M483.27 426.68V436.64M480.07 426.68h6.4M480.07 436.64h6.4M483.87 427.84V437.26M480.67 427.84h6.4M480.67 437.26h6.4M484.47 428.08V437.17M481.27 428.08h6.4M481.27 437.17h6.4M485.07 430.92V440.51M481.87 430.92h6.4M481.87 440.51h6.4M485.67 429.66V440.39M482.47 429.66h6.4M482.47 440.39h6.4M486.26 435.02V444.96M483.06 435.02h6.4M483.06 444.96h6.4M486.86 430.86V440.31M483.66 430.86h6.4M483.66 440.31h6.4M487.46 430.24V441.08M484.26 430.24h6.4M484.26 441.08h6.4M488.06 433.2V443.71M484.86 433.2h6.4M484.86 443.71h6.4M488.66 436.82V446.34M485.46 436.82h6.4M485.46 446.34h6.4M489.26 432.24V441.29M486.06 432.24h6.4M486.06 441.29h6.4M489.85 435.65V444.76M486.65 435.65h6.4M486.65 444.76h6.4M490.45 434.31V444.71M487.25 434.31h6.4M487.25 444.71h6.4M491.05 436.38V445.92M487.85 436.38h6.4M487.85 445.92h6.4M491.65 430.93V441.8M488.45 430.93h6.4M488.45 441.8h6.4M492.25 436.85V446.39M489.05 436.85h6.4M489.05 446.39h6.4M492.85 431.75V441.36M489.65 431.75h6.4M489.65 441.36h6.4M493.44 432.61V443.62M490.24 432.61h6.4M490.24 443.62h6.4M494.04 435.26V445.2M490.84 435.26h6.4M490.84 445.2h6.4M494.64 434.16V444.05M491.44 434.16h6.4M491.44 444.05h6.4M495.24 435.08V444.74M492.04 435.08h6.4M492.04 444.74h6.4M495.84 437.03V446.07M492.64 437.03h6.4M492.64 446.07h6.4M496.44 435.25V446.48M493.24 435.25h6.4M493.24 446.48h6.4M497.03 435.11V446.06M493.83 435.11h6.4M493.83 446.06h6.4M497.63 434.01V443.88M494.43 434.01h6.4M494.43 443.88h6.4M498.23 437.09V446.96M495.03 437.09h6.4M495.03 446.96h6.4M498.83 429.45V440.36M495.63 429.45h6.4M495.63 440.36h6.4M499.43 433.92V444.07M496.23 433.92h6.4M496.23 444.07h6.4M500.03 438.01V447.08M496.83 438.01h6.4M496.83 447.08h6.4M500.62 438.49V447.79M497.42 438.49h6.4M497.42 447.79h6.4M501.22 433.71V443.75M498.02 433.71h6.4M498.02 443.75h6.4M501.82 435.85V445.12M498.62 435.85h6.4M498.62 445.12h6.4M502.42 439.33V449.75M499.22 439.33h6.4M499.22 449.75h6.4M503.02 438V447.37M499.82 438h6.4M499.82 447.37h6.4M503.62 437.25V448.46M500.42 437.25h6.4M500.42 448.46h6.4M504.21 436.61V446.81M501.01 436.61h6.4M501.01 446.81h6.4M504.81 436.29V445.49M501.61 436.29h6.4M501.61 445.49h6.4M505.41 437.82V448.74M502.21 437.82h6.4M502.21 448.74h6.4M506.01 442.54V453.8M502.81 442.54h6.4M502.81 453.8h6.4M506.61 439.73V449.93M503.41 439.73h6.4M503.41 449.93h6.4M507.21 441.57V450.76M504.01 441.57h6.4M504.01 450.76h6.4M507.8 442.66V452.03M504.6 442.66h6.4M504.6 452.03h6.4M508.4 442.43V451.79M505.2 442.43h6.4M505.2 451.79h6.4M509 433.61V444.03M505.8 433.61h6.4M505.8 444.03h6.4M509.6 438.54V448.12M506.4 438.54h6.4M506.4 448.12h6.4M510.2 437.65V448.61M507 437.65h6.4M507 448.61h6.4M510.8 440.26V450.81M507.6 440.26h6.4M507.6 450.81h6.4M511.39 439.81V450.79M508.19 439.81h6.4M508.19 450.79h6.4M511.99 438.41V448.13M508.79 438.41h6.4M508.79 448.13h6.4M512.59 438.38V447.91M509.39 438.38h6.4M509.39 447.91h6.4M513.19 445.45V456.41M509.99 445.45h6.4M509.99 456.41h6.4M513.79 440.1V449.4M510.59 440.1h6.4M510.59 449.4h6.4M514.39 441.42V452.06M511.19 441.42h6.4M511.19 452.06h6.4M514.98 445.82V454.88M511.78 445.82h6.4M511.78 454.88h6.4M515.58 446.09V455.47M512.38 446.09h6.4M512.38 455.47h6.4M516.18 439.69V449.27M512.98 439.69h6.4M512.98 449.27h6.4M516.78 445.81V456.48M513.58 445.81h6.4M513.58 456.48h6.4M517.38 441.55V451.27M514.18 441.55h6.4M514.18 451.27h6.4M517.98 445.33V455.33M514.78 445.33h6.4M514.78 455.33h6.4M518.57 438.17V449.68M515.37 438.17h6.4M515.37 449.68h6.4M519.17 442.89V451.91M515.97 442.89h6.4M515.97 451.91h6.4M519.77 443.25V452.53M516.57 443.25h6.4M516.57 452.53h6.4M520.37 440.76V450.15M517.17 440.76h6.4M517.17 450.15h6.4M520.97 446.16V456.79M517.77 446.16h6.4M517.77 456.79h6.4M521.57 436.96V446.6M518.37 436.96h6.4M518.37 446.6h6.4M522.16 444.11V453.99M518.96 444.11h6.4M518.96 453.99h6.4M522.76 447.8V457.67M519.56 447.8h6.4M519.56 457.67h6.4M523.36 443.97V453.57M520.16 443.97h6.4M520.16 453.57h6.4M523.96 446.47V456.7M520.76 446.47h6.4M520.76 456.7h6.4M524.56 440.93V451.58M521.36 440.93h6.4M521.36 451.58h6.4M525.16 442.34V453.28M521.96 442.34h6.4M521.96 453.28h6.4M525.75 446.74V456.21M522.55 446.74h6.4M522.55 456.21h6.4M526.35 442.7V452.76M523.15 442.7h6.4M523.15 452.76h6.4M526.95 448.01V457.36M523.75 448.01h6.4M523.75 457.36h6.4M527.55 442.86V452.59M524.35 442.86h6.4M524.35 452.59h6.4M528.15 443.58V453.29M524.95 443.58h6.4M524.95 453.29h6.4M528.75 447.28V456.59M525.55 447.28h6.4M525.55 456.59h6.4M529.35 444.9V454.47M526.15 444.9h6.4M526.15 454.47h6.4M529.94 446.29V456M526.74 446.29h6.4M526.74 456h6.4M530.54 443.24V453.02M527.34 443.24h6.4M527.34 453.02h6.4M531.14 443.53V453.79M527.94 443.53h6.4M527.94 453.79h6.4M531.74 444.9V453.98M528.54 444.9h6.4M528.54 453.98h6.4M532.34 444.2V453.82M529.14 444.2h6.4M529.14 453.82h6.4M532.94 440.3V450.4M529.74 440.3h6.4M529.74 450.4h6.4M533.53 445.52V454.79M530.33 445.52h6.4M530.33 454.79h6.4M534.13 440.95V452.1M530.93 440.95h6.4M530.93 452.1h6.4M534.73 440.25V453.4M531.53 440.25h6.4M531.53 453.4h6.4M535.33 445.71V455.01M532.13 445.71h6.4M532.13 455.01h6.4M535.93 441.37V452.09M532.73 441.37h6.4M532.73 452.09h6.4M536.53 438.83V448.55M533.33 438.83h6.4M533.33 448.55h6.4M537.12 441.1V450.61M533.92 441.1h6.4M533.92 450.61h6.4M537.72 444.67V454.46M534.52 444.67h6.4M534.52 454.46h6.4M538.32 436.09V446.27M535.12 436.09h6.4M535.12 446.27h6.4M538.92 437.98V448.08M535.72 437.98h6.4M535.72 448.08h6.4M539.52 434.7V446.17M536.32 434.7h6.4M536.32 446.17h6.4M540.12 438.91V448.63M536.92 438.91h6.4M536.92 448.63h6.4M540.71 442.21V451.6M537.51 442.21h6.4M537.51 451.6h6.4M541.31 443.53V454.72M538.11 443.53h6.4M538.11 454.72h6.4M541.91 437.02V446.32M538.71 437.02h6.4M538.71 446.32h6.4M542.51 439.34V449.53M539.31 439.34h6.4M539.31 449.53h6.4M543.11 441.85V452.16M539.91 441.85h6.4M539.91 452.16h6.4M543.71 443.53V453.01M540.51 443.53h6.4M540.51 453.01h6.4M544.3 440.07V449.34M541.1 440.07h6.4M541.1 449.34h6.4M544.9 439.63V449.85M541.7 439.63h6.4M541.7 449.85h6.4M545.5 438.4V447.84M542.3 438.4h6.4M542.3 447.84h6.4M546.1 433.41V443.31M542.9 433.41h6.4M542.9 443.31h6.4M546.7 443.56V452.6M543.5 443.56h6.4M543.5 452.6h6.4M547.3 440.73V451.72M544.1 440.73h6.4M544.1 451.72h6.4M547.89 436.95V447.8M544.69 436.95h6.4M544.69 447.8h6.4M548.49 438.97V448.59M545.29 438.97h6.4M545.29 448.59h6.4M549.09 434.09V444.11M545.89 434.09h6.4M545.89 444.11h6.4M549.69 434.9V446.8M546.49 434.9h6.4M546.49 446.8h6.4M550.29 437.32V446.46M547.09 437.32h6.4M547.09 446.46h6.4M550.89 438.05V447.41M547.69 438.05h6.4M547.69 447.41h6.4M551.48 435.58V446.18M548.28 435.58h6.4M548.28 446.18h6.4M552.08 433.97V444.93M548.88 433.97h6.4M548.88 444.93h6.4M552.68 436.87V446.32M549.48 436.87h6.4M549.48 446.32h6.4M553.28 432.58V441.65M550.08 432.58h6.4M550.08 441.65h6.4M553.88 435.54V445.32M550.68 435.54h6.4M550.68 445.32h6.4M554.48 437.52V447.23M551.28 437.52h6.4M551.28 447.23h6.4M555.07 434.33V444.34M551.87 434.33h6.4M551.87 444.34h6.4M555.67 434.91V445.26M552.47 434.91h6.4M552.47 445.26h6.4M556.27 433.87V443.39M553.07 433.87h6.4M553.07 443.39h6.4M556.87 435.53V444.79M553.67 435.53h6.4M553.67 444.79h6.4M557.47 437.01V446.49M554.27 437.01h6.4M554.27 446.49h6.4M558.07 433.55V443.09M554.87 433.55h6.4M554.87 443.09h6.4M558.66 434.65V444.99M555.46 434.65h6.4M555.46 444.99h6.4M559.26 432.76V442.17M556.06 432.76h6.4M556.06 442.17h6.4M559.86 435.89V445.47M556.66 435.89h6.4M556.66 445.47h6.4M560.46 434.79V445.31M557.26 434.79h6.4M557.26 445.31h6.4M561.06 431.72V442M557.86 431.72h6.4M557.86 442h6.4M561.66 430.86V441.24M558.46 430.86h6.4M558.46 441.24h6.4M562.25 426.66V435.7M559.05 426.66h6.4M559.05 435.7h6.4M562.85 432.02V441.17M559.65 432.02h6.4M559.65 441.17h6.4M563.45 427.08V436.87M560.25 427.08h6.4M560.25 436.87h6.4M564.05 424.49V434.63M560.85 424.49h6.4M560.85 434.63h6.4M564.65 431.01V441.19M561.45 431.01h6.4M561.45 441.19h6.4M565.25 429.24V439.57M562.05 429.24h6.4M562.05 439.57h6.4M565.84 428.67V438.22M562.64 428.67h6.4M562.64 438.22h6.4M566.44 431.38V440.75M563.24 431.38h6.4M563.24 440.75h6.4M567.04 430.52V440.1M563.84 430.52h6.4M563.84 440.1h6.4M567.64 431.96V443.35M564.44 431.96h6.4M564.44 443.35h6.4M568.24 427.72V437.55M565.04 427.72h6.4M565.04 437.55h6.4M568.84 430.38V440.04M565.64 430.38h6.4M565.64 440.04h6.4M569.43 427.91V437.01M566.23 427.91h6.4M566.23 437.01h6.4M570.03 428.26V437.92M566.83 428.26h6.4M566.83 437.92h6.4M570.63 425.42V435.75M567.43 425.42h6.4M567.43 435.75h6.4M571.23 425.43V436.12M568.03 425.43h6.4M568.03 436.12h6.4M571.83 423.72V433.89M568.63 423.72h6.4M568.63 433.89h6.4M572.43 431.18V440.45M569.23 431.18h6.4M569.23 440.45h6.4M573.02 431.85V440.99M569.82 431.85h6.4M569.82 440.99h6.4M573.62 429.62V438.64M570.42 429.62h6.4M570.42 438.64h6.4M574.22 421.43V430.89M571.02 421.43h6.4M571.02 430.89h6.4M574.82 428.89V438.55M571.62 428.89h6.4M571.62 438.55h6.4M575.42 424.5V434.65M572.22 424.5h6.4M572.22 434.65h6.4M576.02 420.74V430.33M572.82 420.74h6.4M572.82 430.33h6.4M576.61 422V431.72M573.41 422h6.4M573.41 431.72h6.4M577.21 424.97V435.34M574.01 424.97h6.4M574.01 435.34h6.4M577.81 420.01V429.12M574.61 420.01h6.4M574.61 429.12h6.4M578.41 427.22V436.55M575.21 427.22h6.4M575.21 436.55h6.4M579.01 419.33V428.91M575.81 419.33h6.4M575.81 428.91h6.4M579.61 425.55V435.18M576.41 425.55h6.4M576.41 435.18h6.4M580.2 419.04V428.17M577 419.04h6.4M577 428.17h6.4M580.8 420.03V431.72M577.6 420.03h6.4M577.6 431.72h6.4M581.4 414.73V425.64M578.2 414.73h6.4M578.2 425.64h6.4M582 418.48V428.21M578.8 418.48h6.4M578.8 428.21h6.4M582.6 411.82V421.47M579.4 411.82h6.4M579.4 421.47h6.4M583.2 419.69V429.22M580 419.69h6.4M580 429.22h6.4M583.79 417.97V427.28M580.59 417.97h6.4M580.59 427.28h6.4M584.39 417.55V427.18M581.19 417.55h6.4M581.19 427.18h6.4M584.99 415.36V425.96M581.79 415.36h6.4M581.79 425.96h6.4M585.59 413.2V422.46M582.39 413.2h6.4M582.39 422.46h6.4M586.19 416.75V426.3M582.99 416.75h6.4M582.99 426.3h6.4M586.79 412.04V421.82M583.59 412.04h6.4M583.59 421.82h6.4M587.38 408.98V420.53M584.18 408.98h6.4M584.18 420.53h6.4M587.98 412.04V423.41M584.78 412.04h6.4M584.78 423.41h6.4M588.58 413.1V422.32M585.38 413.1h6.4M585.38 422.32h6.4M589.18 409.65V419.1M585.98 409.65h6.4M585.98 419.1h6.4M589.78 409.18V419.4M586.58 409.18h6.4M586.58 419.4h6.4M590.38 406.77V416.1M587.18 406.77h6.4M587.18 416.1h6.4M590.97 409.63V418.78M587.77 409.63h6.4M587.77 418.78h6.4M591.57 406.8V416.59M588.37 406.8h6.4M588.37 416.59h6.4M592.17 408.55V417.55M588.97 408.55h6.4M588.97 417.55h6.4M592.77 406.08V415.63M589.57 406.08h6.4M589.57 415.63h6.4M593.37 407.12V416.14M590.17 407.12h6.4M590.17 416.14h6.4M593.97 400.78V410.03M590.77 400.78h6.4M590.77 410.03h6.4M594.57 405.63V415.09M591.37 405.63h6.4M591.37 415.09h6.4M595.16 400.75V410.67M591.96 400.75h6.4M591.96 410.67h6.4M595.76 403.78V413.46M592.56 403.78h6.4M592.56 413.46h6.4M596.36 405.47V414.54M593.16 405.47h6.4M593.16 414.54h6.4M596.96 402.29V411.21M593.76 402.29h6.4M593.76 411.21h6.4M597.56 401.71V411.82M594.36 401.71h6.4M594.36 411.82h6.4M598.16 399.85V409.37M594.96 399.85h6.4M594.96 409.37h6.4M598.75 395.88V405.18M595.55 395.88h6.4M595.55 405.18h6.4M599.35 393.2V404.26M596.15 393.2h6.4M596.15 404.26h6.4M599.95 398.35V408.45M596.75 398.35h6.4M596.75 408.45h6.4M600.55 388.56V398.43M597.35 388.56h6.4M597.35 398.43h6.4M601.15 392.4V401.27M597.95 392.4h6.4M597.95 401.27h6.4M601.75 390.81V399.03M598.55 390.81h6.4M598.55 399.03h6.4M602.34 391.13V399.91M599.14 391.13h6.4M599.14 399.91h6.4M602.94 390.44V400.2M599.74 390.44h6.4M599.74 400.2h6.4M603.54 388.76V398.2M600.34 388.76h6.4M600.34 398.2h6.4M604.14 390V398.44M600.94 390h6.4M600.94 398.44h6.4M604.74 384.98V394.79M601.54 384.98h6.4M601.54 394.79h6.4M605.34 390.14V399.25M602.14 390.14h6.4M602.14 399.25h6.4M605.93 386.84V394.78M602.73 386.84h6.4M602.73 394.78h6.4M606.53 384.79V392.55M603.33 384.79h6.4M603.33 392.55h6.4M607.13 382.02V390.86M603.93 382.02h6.4M603.93 390.86h6.4M607.73 385.9V394.2M604.53 385.9h6.4M604.53 394.2h6.4M608.33 384.42V392.5M605.13 384.42h6.4M605.13 392.5h6.4M608.93 384.92V392.67M605.73 384.92h6.4M605.73 392.67h6.4M609.52 377V384.9M606.32 377h6.4M606.32 384.9h6.4M610.12 378.3V386.83M606.92 378.3h6.4M606.92 386.83h6.4M610.72 379.05V386.61M607.52 379.05h6.4M607.52 386.61h6.4M611.32 378.13V385.46M608.12 378.13h6.4M608.12 385.46h6.4M611.92 377.29V384.3M608.72 377.29h6.4M608.72 384.3h6.4M612.52 377.04V384.2M609.32 377.04h6.4M609.32 384.2h6.4M613.11 375.85V382.53M609.91 375.85h6.4M609.91 382.53h6.4M613.71 374.07V380.85M610.51 374.07h6.4M610.51 380.85h6.4M614.31 372.62V379.41M611.11 372.62h6.4M611.11 379.41h6.4M614.91 369.69V376.64M611.71 369.69h6.4M611.71 376.64h6.4M615.51 367.95V374.89M612.31 367.95h6.4M612.31 374.89h6.4M616.11 362.61V370.4M612.91 362.61h6.4M612.91 370.4h6.4M616.7 361.72V368.17M613.5 361.72h6.4M613.5 368.17h6.4M617.3 363.35V370.39M614.1 363.35h6.4M614.1 370.39h6.4M617.9 363.24V369.37M614.7 363.24h6.4M614.7 369.37h6.4M618.5 361V368.13M615.3 361h6.4M615.3 368.13h6.4M619.1 363.44V369.81M615.9 363.44h6.4M615.9 369.81h6.4M619.7 355.08V361.43M616.5 355.08h6.4M616.5 361.43h6.4M620.29 355.72V365.47M617.09 355.72h6.4M617.09 365.47h6.4M620.89 354.24V360.39M617.69 354.24h6.4M617.69 360.39h6.4M621.49 354.79V360.8M618.29 354.79h6.4M618.29 360.8h6.4M622.09 350.36V357.05M618.89 350.36h6.4M618.89 357.05h6.4M622.69 349.67V355.46M619.49 349.67h6.4M619.49 355.46h6.4M623.29 351.62V358.6M620.09 351.62h6.4M620.09 358.6h6.4M623.88 347.93V355.26M620.68 347.93h6.4M620.68 355.26h6.4M624.48 347.28V353.78M621.28 347.28h6.4M621.28 353.78h6.4M625.08 345.83V352.01M621.88 345.83h6.4M621.88 352.01h6.4M625.68 343.54V349.4M622.48 343.54h6.4M622.48 349.4h6.4M626.28 342.25V348.67M623.08 342.25h6.4M623.08 348.67h6.4M626.88 345.22V350.27M623.68 345.22h6.4M623.68 350.27h6.4M627.47 341.72V347.1M624.27 341.72h6.4M624.27 347.1h6.4M628.07 339.44V345.69M624.87 339.44h6.4M624.87 345.69h6.4M628.67 340.26V346.04M625.47 340.26h6.4M625.47 346.04h6.4M629.27 336.47V341.96M626.07 336.47h6.4M626.07 341.96h6.4M629.87 337.63V342.8M626.67 337.63h6.4M626.67 342.8h6.4M630.47 334.51V340.5M627.27 334.51h6.4M627.27 340.5h6.4M631.06 331.86V338.53M627.86 331.86h6.4M627.86 338.53h6.4M631.66 332.61V337.17M628.46 332.61h6.4M628.46 337.17h6.4M632.26 330.86V336.07M629.06 330.86h6.4M629.06 336.07h6.4M632.86 328.31V334.42M629.66 328.31h6.4M629.66 334.42h6.4M633.46 326.04V330.82M630.26 326.04h6.4M630.26 330.82h6.4M634.06 325.32V329.44M630.86 325.32h6.4M630.86 329.44h6.4M634.65 320.94V326.51M631.45 320.94h6.4M631.45 326.51h6.4M635.25 321.43V326.71M632.05 321.43h6.4M632.05 326.71h6.4M635.85 320.54V324.82M632.65 320.54h6.4M632.65 324.82h6.4M636.45 316.77V323.71M633.25 316.77h6.4M633.25 323.71h6.4M637.05 315.34V319.51M633.85 315.34h6.4M633.85 319.51h6.4M637.65 313.03V318.74M634.45 313.03h6.4M634.45 318.74h6.4M638.24 312.29V317.08M635.04 312.29h6.4M635.04 317.08h6.4M638.84 309.73V314.89M635.64 309.73h6.4M635.64 314.89h6.4M639.44 305.62V312.29M636.24 305.62h6.4M636.24 312.29h6.4M640.04 305.36V310.04M636.84 305.36h6.4M636.84 310.04h6.4M640.64 303.79V308.02M637.44 303.79h6.4M637.44 308.02h6.4M641.24 300.9V306.19M638.04 300.9h6.4M638.04 306.19h6.4M641.83 297.97V302.52M638.63 297.97h6.4M638.63 302.52h6.4M642.43 296.25V302.1M639.23 296.25h6.4M639.23 302.1h6.4M643.03 293.09V298.15M639.83 293.09h6.4M639.83 298.15h6.4M643.63 291.72V295.22M640.43 291.72h6.4M640.43 295.22h6.4M644.23 289.43V293.73M641.03 289.43h6.4M641.03 293.73h6.4M644.83 286.79V290.18M641.63 286.79h6.4M641.63 290.18h6.4M645.42 282.73V287.64M642.22 282.73h6.4M642.22 287.64h6.4M646.02 282.09V285.74M642.82 282.09h6.4M642.82 285.74h6.4M646.62 278.21V283.11M643.42 278.21h6.4M643.42 283.11h6.4M647.22 279.19V282.75M644.02 279.19h6.4M644.02 282.75h6.4" stroke="#0475C4" stroke-width="1.5" fill="none"/>
<g fill="#0475C4">
<circle cx="407.3" cy="281" r="3.2"/><circle cx="409.3" cy="288.3" r="3.2"/><circle cx="410.27" cy="301.26" r="3.2"/><circle cx="410.87" cy="301.67" r="3.2"/><circle cx="411.47" cy="303.62" r="3.2"/><circle cx="412.07" cy="304.39" r="3.2"/><circle cx="412.67" cy="306.06" r="3.2"/><circle cx="413.27" cy="306.34" r="3.2"/><circle cx="413.86" cy="308.43" r="3.2"/><circle cx="414.46" cy="308.19" r="3.2"/><circle cx="415.06" cy="310.68" r="3.2"/><circle cx="415.66" cy="311.23" r="3.2"/><circle cx="416.26" cy="313.16" r="3.2"/><circle cx="416.86" cy="313.99" r="3.2"/><circle cx="417.45" cy="315.02" r="3.2"/><circle cx="418.05" cy="317.43" r="3.2"/><circle cx="418.65" cy="319.09" r="3.2"/><circle cx="419.25" cy="321.48" r="3.2"/><circle cx="419.85" cy="323.9" r="3.2"/><circle cx="420.45" cy="326.52" r="3.2"/><circle cx="421.04" cy="328.5" r="3.2"/><circle cx="421.64" cy="328.49" r="3.2"/><circle cx="422.24" cy="331.54" r="3.2"/><circle cx="422.84" cy="333.38" r="3.2"/><circle cx="423.44" cy="336.45" r="3.2"/><circle cx="424.04" cy="337.35" r="3.2"/><circle cx="424.63" cy="336.89" r="3.2"/><circle cx="425.23" cy="340.92" r="3.2"/><circle cx="425.83" cy="343" r="3.2"/><circle cx="426.43" cy="343.71" r="3.2"/><circle cx="427.03" cy="346.2" r="3.2"/><circle cx="427.63" cy="346.08" r="3.2"/><circle cx="428.22" cy="345.79" r="3.2"/><circle cx="428.82" cy="348.16" r="3.2"/><circle cx="429.42" cy="353.39" r="3.2"/><circle cx="430.02" cy="351.31" r="3.2"/><circle cx="430.62" cy="351.96" r="3.2"/><circle cx="431.22" cy="355.55" r="3.2"/><circle cx="431.81" cy="357.09" r="3.2"/><circle cx="432.41" cy="359.59" r="3.2"/><circle cx="433.01" cy="359.95" r="3.2"/><circle cx="433.61" cy="359.18" r="3.2"/><circle cx="434.21" cy="362.36" r="3.2"/><circle cx="434.81" cy="363.76" r="3.2"/><circle cx="435.4" cy="361.87" r="3.2"/><circle cx="436" cy="363.86" r="3.2"/><circle cx="436.6" cy="364.32" r="3.2"/><circle cx="437.2" cy="365.95" r="3.2"/><circle cx="437.8" cy="370.02" r="3.2"/><circle cx="438.4" cy="369.11" r="3.2"/><circle cx="438.99" cy="371.54" r="3.2"/><circle cx="439.59" cy="373.1" r="3.2"/><circle cx="440.19" cy="373.8" r="3.2"/><circle cx="440.79" cy="370.46" r="3.2"/><circle cx="441.39" cy="375.97" r="3.2"/><circle cx="441.99" cy="375.77" r="3.2"/><circle cx="442.58" cy="381.28" r="3.2"/><circle cx="443.18" cy="382.19" r="3.2"/><circle cx="443.78" cy="376.03" r="3.2"/><circle cx="444.38" cy="380.77" r="3.2"/><circle cx="444.98" cy="383.64" r="3.2"/><circle cx="445.58" cy="385.34" r="3.2"/><circle cx="446.17" cy="382.28" r="3.2"/><circle cx="446.77" cy="387.08" r="3.2"/><circle cx="447.37" cy="385.74" r="3.2"/><circle cx="447.97" cy="388.53" r="3.2"/><circle cx="448.57" cy="394.25" r="3.2"/><circle cx="449.17" cy="391.14" r="3.2"/><circle cx="449.76" cy="395.13" r="3.2"/><circle cx="450.36" cy="394.26" r="3.2"/><circle cx="450.96" cy="397.89" r="3.2"/><circle cx="451.56" cy="395.86" r="3.2"/><circle cx="452.16" cy="394.36" r="3.2"/><circle cx="452.76" cy="399.55" r="3.2"/><circle cx="453.35" cy="396.71" r="3.2"/><circle cx="453.95" cy="401.81" r="3.2"/><circle cx="454.55" cy="400.37" r="3.2"/><circle cx="455.15" cy="404.69" r="3.2"/><circle cx="455.75" cy="402.11" r="3.2"/><circle cx="456.35" cy="401.51" r="3.2"/><circle cx="456.94" cy="406.48" r="3.2"/><circle cx="457.54" cy="403.25" r="3.2"/><circle cx="458.14" cy="406.91" r="3.2"/><circle cx="458.74" cy="408.3" r="3.2"/><circle cx="459.34" cy="410.59" r="3.2"/><circle cx="459.94" cy="413.83" r="3.2"/><circle cx="460.53" cy="410.95" r="3.2"/><circle cx="461.13" cy="410.71" r="3.2"/><circle cx="461.73" cy="411.49" r="3.2"/><circle cx="462.33" cy="411.46" r="3.2"/><circle cx="462.93" cy="414.52" r="3.2"/><circle cx="463.53" cy="411.5" r="3.2"/><circle cx="464.12" cy="411.39" r="3.2"/><circle cx="464.72" cy="415.46" r="3.2"/><circle cx="465.32" cy="416.19" r="3.2"/><circle cx="465.92" cy="413.57" r="3.2"/><circle cx="466.52" cy="421.68" r="3.2"/><circle cx="467.12" cy="416.63" r="3.2"/><circle cx="467.72" cy="414.74" r="3.2"/><circle cx="468.31" cy="418.73" r="3.2"/><circle cx="468.91" cy="419.45" r="3.2"/><circle cx="469.51" cy="420.7" r="3.2"/><circle cx="470.11" cy="425.95" r="3.2"/><circle cx="470.71" cy="418.33" r="3.2"/><circle cx="471.31" cy="426.15" r="3.2"/><circle cx="471.9" cy="421.39" r="3.2"/><circle cx="472.5" cy="420.81" r="3.2"/><circle cx="473.1" cy="425.36" r="3.2"/><circle cx="473.7" cy="429.41" r="3.2"/><circle cx="474.3" cy="420.86" r="3.2"/><circle cx="474.9" cy="425.64" r="3.2"/><circle cx="475.49" cy="426.73" r="3.2"/><circle cx="476.09" cy="428.69" r="3.2"/><circle cx="476.69" cy="426.36" r="3.2"/><circle cx="477.29" cy="429.61" r="3.2"/><circle cx="477.89" cy="423.1" r="3.2"/><circle cx="478.49" cy="431.57" r="3.2"/><circle cx="479.08" cy="431.98" r="3.2"/><circle cx="479.68" cy="432.57" r="3.2"/><circle cx="480.28" cy="428.86" r="3.2"/><circle cx="480.88" cy="431.46" r="3.2"/><circle cx="481.48" cy="435.21" r="3.2"/><circle cx="482.08" cy="436.45" r="3.2"/><circle cx="482.67" cy="433.74" r="3.2"/><circle cx="483.27" cy="431.66" r="3.2"/><circle cx="483.87" cy="432.55" r="3.2"/><circle cx="484.47" cy="432.63" r="3.2"/><circle cx="485.07" cy="435.72" r="3.2"/><circle cx="485.67" cy="435.02" r="3.2"/><circle cx="486.26" cy="439.99" r="3.2"/><circle cx="486.86" cy="435.58" r="3.2"/><circle cx="487.46" cy="435.66" r="3.2"/><circle cx="488.06" cy="438.45" r="3.2"/><circle cx="488.66" cy="441.58" r="3.2"/><circle cx="489.26" cy="436.76" r="3.2"/><circle cx="489.85" cy="440.21" r="3.2"/><circle cx="490.45" cy="439.51" r="3.2"/><circle cx="491.05" cy="441.15" r="3.2"/><circle cx="491.65" cy="436.36" r="3.2"/><circle cx="492.25" cy="441.62" r="3.2"/><circle cx="492.85" cy="436.56" r="3.2"/><circle cx="493.44" cy="438.12" r="3.2"/><circle cx="494.04" cy="440.23" r="3.2"/><circle cx="494.64" cy="439.1" r="3.2"/><circle cx="495.24" cy="439.91" r="3.2"/><circle cx="495.84" cy="441.55" r="3.2"/><circle cx="496.44" cy="440.87" r="3.2"/><circle cx="497.03" cy="440.59" r="3.2"/><circle cx="497.63" cy="438.95" r="3.2"/><circle cx="498.23" cy="442.03" r="3.2"/><circle cx="498.83" cy="434.91" r="3.2"/><circle cx="499.43" cy="439" r="3.2"/><circle cx="500.03" cy="442.54" r="3.2"/><circle cx="500.62" cy="443.14" r="3.2"/><circle cx="501.22" cy="438.73" r="3.2"/><circle cx="501.82" cy="440.48" r="3.2"/><circle cx="502.42" cy="444.54" r="3.2"/><circle cx="503.02" cy="442.69" r="3.2"/><circle cx="503.62" cy="442.86" r="3.2"/><circle cx="504.21" cy="441.71" r="3.2"/><circle cx="504.81" cy="440.89" r="3.2"/><circle cx="505.41" cy="443.28" r="3.2"/><circle cx="506.01" cy="448.17" r="3.2"/><circle cx="506.61" cy="444.83" r="3.2"/><circle cx="507.21" cy="446.16" r="3.2"/><circle cx="507.8" cy="447.35" r="3.2"/><circle cx="508.4" cy="447.11" r="3.2"/><circle cx="509" cy="438.82" r="3.2"/><circle cx="509.6" cy="443.33" r="3.2"/><circle cx="510.2" cy="443.13" r="3.2"/><circle cx="510.8" cy="445.53" r="3.2"/><circle cx="511.39" cy="445.3" r="3.2"/><circle cx="511.99" cy="443.27" r="3.2"/><circle cx="512.59" cy="443.14" r="3.2"/><circle cx="513.19" cy="450.93" r="3.2"/><circle cx="513.79" cy="444.75" r="3.2"/><circle cx="514.39" cy="446.74" r="3.2"/><circle cx="514.98" cy="450.35" r="3.2"/><circle cx="515.58" cy="450.78" r="3.2"/><circle cx="516.18" cy="444.48" r="3.2"/><circle cx="516.78" cy="451.14" r="3.2"/><circle cx="517.38" cy="446.41" r="3.2"/><circle cx="517.98" cy="450.33" r="3.2"/><circle cx="518.57" cy="443.93" r="3.2"/><circle cx="519.17" cy="447.4" r="3.2"/><circle cx="519.77" cy="447.89" r="3.2"/><circle cx="520.37" cy="445.45" r="3.2"/><circle cx="520.97" cy="451.47" r="3.2"/><circle cx="521.57" cy="441.78" r="3.2"/><circle cx="522.16" cy="449.05" r="3.2"/><circle cx="522.76" cy="452.73" r="3.2"/><circle cx="523.36" cy="448.77" r="3.2"/><circle cx="523.96" cy="451.58" r="3.2"/><circle cx="524.56" cy="446.26" r="3.2"/><circle cx="525.16" cy="447.81" r="3.2"/><circle cx="525.75" cy="451.47" r="3.2"/><circle cx="526.35" cy="447.73" r="3.2"/><circle cx="526.95" cy="452.69" r="3.2"/><circle cx="527.55" cy="447.72" r="3.2"/><circle cx="528.15" cy="448.44" r="3.2"/><circle cx="528.75" cy="451.93" r="3.2"/><circle cx="529.35" cy="449.68" r="3.2"/><circle cx="529.94" cy="451.15" r="3.2"/><circle cx="530.54" cy="448.13" r="3.2"/><circle cx="531.14" cy="448.66" r="3.2"/><circle cx="531.74" cy="449.44" r="3.2"/><circle cx="532.34" cy="449.01" r="3.2"/><circle cx="532.94" cy="445.35" r="3.2"/><circle cx="533.53" cy="450.16" r="3.2"/><circle cx="534.13" cy="446.53" r="3.2"/><circle cx="534.73" cy="446.82" r="3.2"/><circle cx="535.33" cy="450.36" r="3.2"/><circle cx="535.93" cy="446.73" r="3.2"/><circle cx="536.53" cy="443.69" r="3.2"/><circle cx="537.12" cy="445.86" r="3.2"/><circle cx="537.72" cy="449.56" r="3.2"/><circle cx="538.32" cy="441.18" r="3.2"/><circle cx="538.92" cy="443.03" r="3.2"/><circle cx="539.52" cy="440.43" r="3.2"/><circle cx="540.12" cy="443.77" r="3.2"/><circle cx="540.71" cy="446.91" r="3.2"/><circle cx="541.31" cy="449.12" r="3.2"/><circle cx="541.91" cy="441.67" r="3.2"/><circle cx="542.51" cy="444.44" r="3.2"/><circle cx="543.11" cy="447.01" r="3.2"/><circle cx="543.71" cy="448.27" r="3.2"/><circle cx="544.3" cy="444.71" r="3.2"/><circle cx="544.9" cy="444.74" r="3.2"/><circle cx="545.5" cy="443.12" r="3.2"/><circle cx="546.1" cy="438.36" r="3.2"/><circle cx="546.7" cy="448.08" r="3.2"/><circle cx="547.3" cy="446.23" r="3.2"/><circle cx="547.89" cy="442.37" r="3.2"/><circle cx="548.49" cy="443.78" r="3.2"/><circle cx="549.09" cy="439.1" r="3.2"/><circle cx="549.69" cy="440.85" r="3.2"/><circle cx="550.29" cy="441.89" r="3.2"/><circle cx="550.89" cy="442.73" r="3.2"/><circle cx="551.48" cy="440.88" r="3.2"/><circle cx="552.08" cy="439.45" r="3.2"/><circle cx="552.68" cy="441.59" r="3.2"/><circle cx="553.28" cy="437.12" r="3.2"/><circle cx="553.88" cy="440.43" r="3.2"/><circle cx="554.48" cy="442.38" r="3.2"/><circle cx="555.07" cy="439.34" r="3.2"/><circle cx="555.67" cy="440.08" r="3.2"/><circle cx="556.27" cy="438.63" r="3.2"/><circle cx="556.87" cy="440.16" r="3.2"/><circle cx="557.47" cy="441.75" r="3.2"/><circle cx="558.07" cy="438.32" r="3.2"/><circle cx="558.66" cy="439.82" r="3.2"/><circle cx="559.26" cy="437.47" r="3.2"/><circle cx="559.86" cy="440.68" r="3.2"/><circle cx="560.46" cy="440.05" r="3.2"/><circle cx="561.06" cy="436.86" r="3.2"/><circle cx="561.66" cy="436.05" r="3.2"/><circle cx="562.25" cy="431.18" r="3.2"/><circle cx="562.85" cy="436.59" r="3.2"/><circle cx="563.45" cy="431.98" r="3.2"/><circle cx="564.05" cy="429.56" r="3.2"/><circle cx="564.65" cy="436.1" r="3.2"/><circle cx="565.25" cy="434.4" r="3.2"/><circle cx="565.84" cy="433.45" r="3.2"/><circle cx="566.44" cy="436.07" r="3.2"/><circle cx="567.04" cy="435.31" r="3.2"/><circle cx="567.64" cy="437.65" r="3.2"/><circle cx="568.24" cy="432.64" r="3.2"/><circle cx="568.84" cy="435.21" r="3.2"/><circle cx="569.43" cy="432.46" r="3.2"/><circle cx="570.03" cy="433.09" r="3.2"/><circle cx="570.63" cy="430.59" r="3.2"/><circle cx="571.23" cy="430.78" r="3.2"/><circle cx="571.83" cy="428.8" r="3.2"/><circle cx="572.43" cy="435.82" r="3.2"/><circle cx="573.02" cy="436.42" r="3.2"/><circle cx="573.62" cy="434.13" r="3.2"/><circle cx="574.22" cy="426.16" r="3.2"/><circle cx="574.82" cy="433.72" r="3.2"/><circle cx="575.42" cy="429.57" r="3.2"/><circle cx="576.02" cy="425.54" r="3.2"/><circle cx="576.61" cy="426.86" r="3.2"/><circle cx="577.21" cy="430.15" r="3.2"/><circle cx="577.81" cy="424.57" r="3.2"/><circle cx="578.41" cy="431.88" r="3.2"/><circle cx="579.01" cy="424.12" r="3.2"/><circle cx="579.61" cy="430.36" r="3.2"/><circle cx="580.2" cy="423.6" r="3.2"/><circle cx="580.8" cy="425.88" r="3.2"/><circle cx="581.4" cy="420.18" r="3.2"/><circle cx="582" cy="423.34" r="3.2"/><circle cx="582.6" cy="416.65" r="3.2"/><circle cx="583.2" cy="424.45" r="3.2"/><circle cx="583.79" cy="422.63" r="3.2"/><circle cx="584.39" cy="422.37" r="3.2"/><circle cx="584.99" cy="420.66" r="3.2"/><circle cx="585.59" cy="417.83" r="3.2"/><circle cx="586.19" cy="421.53" r="3.2"/><circle cx="586.79" cy="416.93" r="3.2"/><circle cx="587.38" cy="414.76" r="3.2"/><circle cx="587.98" cy="417.73" r="3.2"/><circle cx="588.58" cy="417.71" r="3.2"/><circle cx="589.18" cy="414.37" r="3.2"/><circle cx="589.78" cy="414.29" r="3.2"/><circle cx="590.38" cy="411.44" r="3.2"/><circle cx="590.97" cy="414.2" r="3.2"/><circle cx="591.57" cy="411.69" r="3.2"/><circle cx="592.17" cy="413.05" r="3.2"/><circle cx="592.77" cy="410.86" r="3.2"/><circle cx="593.37" cy="411.63" r="3.2"/><circle cx="593.97" cy="405.41" r="3.2"/><circle cx="594.57" cy="410.36" r="3.2"/><circle cx="595.16" cy="405.71" r="3.2"/><circle cx="595.76" cy="408.62" r="3.2"/><circle cx="596.36" cy="410.01" r="3.2"/><circle cx="596.96" cy="406.75" r="3.2"/><circle cx="597.56" cy="406.77" r="3.2"/><circle cx="598.16" cy="404.61" r="3.2"/><circle cx="598.75" cy="400.53" r="3.2"/><circle cx="599.35" cy="398.73" r="3.2"/><circle cx="599.95" cy="403.4" r="3.2"/><circle cx="600.55" cy="393.5" r="3.2"/><circle cx="601.15" cy="396.83" r="3.2"/><circle cx="601.75" cy="394.92" r="3.2"/><circle cx="602.34" cy="395.52" r="3.2"/><circle cx="602.94" cy="395.32" r="3.2"/><circle cx="603.54" cy="393.48" r="3.2"/><circle cx="604.14" cy="394.22" r="3.2"/><circle cx="604.74" cy="389.88" r="3.2"/><circle cx="605.34" cy="394.7" r="3.2"/><circle cx="605.93" cy="390.81" r="3.2"/><circle cx="606.53" cy="388.67" r="3.2"/><circle cx="607.13" cy="386.44" r="3.2"/><circle cx="607.73" cy="390.05" r="3.2"/><circle cx="608.33" cy="388.46" r="3.2"/><circle cx="608.93" cy="388.79" r="3.2"/><circle cx="609.52" cy="380.95" r="3.2"/><circle cx="610.12" cy="382.56" r="3.2"/><circle cx="610.72" cy="382.83" r="3.2"/><circle cx="611.32" cy="381.79" r="3.2"/><circle cx="611.92" cy="380.8" r="3.2"/><circle cx="612.52" cy="380.62" r="3.2"/><circle cx="613.11" cy="379.19" r="3.2"/><circle cx="613.71" cy="377.46" r="3.2"/><circle cx="614.31" cy="376.02" r="3.2"/><circle cx="614.91" cy="373.17" r="3.2"/><circle cx="615.51" cy="371.42" r="3.2"/><circle cx="616.11" cy="366.5" r="3.2"/><circle cx="616.7" cy="364.94" r="3.2"/><circle cx="617.3" cy="366.87" r="3.2"/><circle cx="617.9" cy="366.31" r="3.2"/><circle cx="618.5" cy="364.57" r="3.2"/><circle cx="619.1" cy="366.63" r="3.2"/><circle cx="619.7" cy="358.25" r="3.2"/><circle cx="620.29" cy="360.6" r="3.2"/><circle cx="620.89" cy="357.31" r="3.2"/><circle cx="621.49" cy="357.8" r="3.2"/><circle cx="622.09" cy="353.71" r="3.2"/><circle cx="622.69" cy="352.56" r="3.2"/><circle cx="623.29" cy="355.11" r="3.2"/><circle cx="623.88" cy="351.59" r="3.2"/><circle cx="624.48" cy="350.53" r="3.2"/><circle cx="625.08" cy="348.92" r="3.2"/><circle cx="625.68" cy="346.47" r="3.2"/><circle cx="626.28" cy="345.46" r="3.2"/><circle cx="626.88" cy="347.74" r="3.2"/><circle cx="627.47" cy="344.41" r="3.2"/><circle cx="628.07" cy="342.56" r="3.2"/><circle cx="628.67" cy="343.15" r="3.2"/><circle cx="629.27" cy="339.21" r="3.2"/><circle cx="629.87" cy="340.22" r="3.2"/><circle cx="630.47" cy="337.51" r="3.2"/><circle cx="631.06" cy="335.2" r="3.2"/><circle cx="631.66" cy="334.89" r="3.2"/><circle cx="632.26" cy="333.47" r="3.2"/><circle cx="632.86" cy="331.37" r="3.2"/><circle cx="633.46" cy="328.43" r="3.2"/><circle cx="634.06" cy="327.38" r="3.2"/><circle cx="634.65" cy="323.73" r="3.2"/><circle cx="635.25" cy="324.07" r="3.2"/><circle cx="635.85" cy="322.68" r="3.2"/><circle cx="636.45" cy="320.24" r="3.2"/><circle cx="637.05" cy="317.42" r="3.2"/><circle cx="637.65" cy="315.88" r="3.2"/><circle cx="638.24" cy="314.69" r="3.2"/><circle cx="638.84" cy="312.31" r="3.2"/><circle cx="639.44" cy="308.96" r="3.2"/><circle cx="640.04" cy="307.7" r="3.2"/><circle cx="640.64" cy="305.91" r="3.2"/><circle cx="641.24" cy="303.54" r="3.2"/><circle cx="641.83" cy="300.24" r="3.2"/><circle cx="642.43" cy="299.17" r="3.2"/><circle cx="643.03" cy="295.62" r="3.2"/><circle cx="643.63" cy="293.47" r="3.2"/><circle cx="644.23" cy="291.58" r="3.2"/><circle cx="644.83" cy="288.49" r="3.2"/><circle cx="645.42" cy="285.19" r="3.2"/><circle cx="646.02" cy="283.92" r="3.2"/><circle cx="646.62" cy="280.66" r="3.2"/><circle cx="647.22" cy="280.97" r="3.2"/>
</g>
<path d="M70.6 36.6H81.1M92.35 36.6H102.85M114.1 36.6H124.6M135.85 36.6H146.35M157.6 36.6H168.1M179.35 36.6H189.85M201.1 36.6H211.6M222.85 36.6H233.35M244.6 36.6H255.1M266.35 36.6H276.85M278.7 39.8V50.3M278.7 61.55V72.05M278.7 83.3V93.8M278.7 105.05V115.55M278.7 126.8V137.3M278.7 148.55V159.05M278.7 170.3V180.8M278.7 192.05V202.55M407.9 55.9H418.4M429.65 55.9H440.15M451.4 55.9H461.9M473.15 55.9H483.65M494.9 55.9H505.4M516.65 55.9H527.15M538.4 55.9H548.9M560.15 55.9H570.65M581.9 55.9H592.4M603.65 55.9H616.9M615.8 55.9V63.2M615.8 75.5V86M615.8 97.25V107.75M615.8 119V129.5M615.8 140.75V151.25M615.8 162.5V173M615.8 184.25V194.75M615.8 206V208.6" stroke="#000" stroke-width="2.3" fill="none"/>
<path d="M67.9 396.33H76.6M82.45 396.33H91.15M97 396.33H105.7M111.55 396.33H120.25M126.1 396.33H134.8M140.65 396.33H149.35M155.2 396.33H163.9M169.75 396.33H178.45M184.3 396.33H193M198.85 396.33H207.55M213.4 396.33H222.1M227.95 396.33H236.65M242.5 396.33H251.2M257.05 396.33H265.75M271.6 396.33H280.3M286.15 396.33H294.85M300.7 396.33H309.4M315.25 396.33H321.4M194.65 264.4V273.1M194.65 278.95V287.65M194.65 293.5V302.2M194.65 308.05V316.75M194.65 322.6V331.3M194.65 337.15V345.85M194.65 351.7V360.4M194.65 366.25V374.95M194.65 380.8V389.5M194.65 395.35V404.05M194.65 409.9V418.6M194.65 424.45V433.15M194.65 439V447.7M194.65 453.55V462.25M400.7 448.8H409.4M415.25 448.8H423.95M429.8 448.8H438.5M444.35 448.8H453.05M458.9 448.8H467.6M473.45 448.8H482.15M488 448.8H496.7M502.55 448.8H511.25M517.1 448.8H525.8M531.65 448.8H540.35M546.2 448.8H554.9M560.75 448.8H569.45M575.3 448.8H584M589.85 448.8H598.55M604.4 448.8H613.1M618.95 448.8H627.65M633.5 448.8H642.2M648.05 448.8H654.4M527.55 264.4V273.1M527.55 278.95V287.65M527.55 293.5V302.2M527.55 308.05V316.75M527.55 322.6V331.3M527.55 337.15V345.85M527.55 351.7V360.4M527.55 366.25V374.95M527.55 380.8V389.5M527.55 395.35V404.05M527.55 409.9V418.6M527.55 424.45V433.15M527.55 439V447.7M527.55 453.55V462.25" stroke="#000" stroke-width="1.3" fill="none"/>
<g font-family='"Liberation Sans", sans-serif' fill="#111" stroke="#111" stroke-width="0.2" style="font-kerning:none">
<text x="37.22" y="36.1" font-size="18.3">0</text><text x="48.2 52.99" y="27.4" font-size="14.4">-4</text><path d="M34.05 36.1L34.05 23.47L32.62 23.47L32.2 24.44L31.49 25.17L30.39 25.74L29.04 26.13L29.04 27.5L30.43 27.19L31.52 26.71L32.44 26.07L32.44 36.1Z" stroke-width="0.15"/>
<text x="37.22" y="61.3" font-size="18.3">0</text><text x="48.2 52.99" y="52.6" font-size="14.4">-5</text><path d="M34.05 61.3L34.05 48.67L32.62 48.67L32.2 49.64L31.49 50.37L30.39 50.94L29.04 51.33L29.04 52.7L30.43 52.39L31.52 51.91L32.44 51.27L32.44 61.3Z" stroke-width="0.15"/>
<text x="37.22" y="86.5" font-size="18.3">0</text><text x="48.2 52.99" y="77.8" font-size="14.4">-6</text><path d="M34.05 86.5L34.05 73.87L32.62 73.87L32.2 74.84L31.49 75.57L30.39 76.14L29.04 76.53L29.04 77.9L30.43 77.59L31.52 77.11L32.44 76.47L32.44 86.5Z" stroke-width="0.15"/>
<text x="37.22" y="111.7" font-size="18.3">0</text><text x="48.2 52.99" y="103" font-size="14.4">-7</text><path d="M34.05 111.7L34.05 99.07L32.62 99.07L32.2 100.04L31.49 100.77L30.39 101.34L29.04 101.73L29.04 103.1L30.43 102.79L31.52 102.31L32.44 101.67L32.44 111.7Z" stroke-width="0.15"/>
<text x="37.22" y="136.9" font-size="18.3">0</text><text x="48.2 52.99" y="128.2" font-size="14.4">-8</text><path d="M34.05 136.9L34.05 124.27L32.62 124.27L32.2 125.24L31.49 125.97L30.39 126.54L29.04 126.93L29.04 128.3L30.43 127.99L31.52 127.51L32.44 126.87L32.44 136.9Z" stroke-width="0.15"/>
<text x="37.22" y="162.1" font-size="18.3">0</text><text x="48.2 52.99" y="153.4" font-size="14.4">-9</text><path d="M34.05 162.1L34.05 149.47L32.62 149.47L32.2 150.44L31.49 151.17L30.39 151.74L29.04 152.13L29.04 153.5L30.43 153.19L31.52 152.71L32.44 152.07L32.44 162.1Z" stroke-width="0.15"/>
<text x="29.21" y="187.3" font-size="18.3">0</text><text x="40.19 52.99" y="178.6" font-size="14.4">-0</text><path d="M26.04 187.3L26.04 174.67L24.61 174.67L24.19 175.64L23.48 176.37L22.38 176.94L21.03 177.33L21.03 178.7L22.42 178.39L23.52 177.91L24.43 177.27L24.43 187.3ZM50.5 178.6L50.5 168.66L49.37 168.66L49.04 169.43L48.48 170L47.62 170.45L46.55 170.75L46.55 171.83L47.65 171.59L48.51 171.21L49.23 170.71L49.23 178.6Z" stroke-width="0.15"/>
<text x="29.21" y="212.5" font-size="18.3">0</text><text x="40.19" y="203.8" font-size="14.4">-</text><path d="M26.04 212.5L26.04 199.87L24.61 199.87L24.19 200.84L23.48 201.57L22.38 202.14L21.03 202.53L21.03 203.9L22.42 203.59L23.52 203.11L24.43 202.47L24.43 212.5ZM50.5 203.8L50.5 193.86L49.37 193.86L49.04 194.63L48.48 195.2L47.62 195.65L46.55 195.95L46.55 197.03L47.65 196.79L48.51 196.41L49.23 195.91L49.23 203.8ZM58.51 203.8L58.51 193.86L57.38 193.86L57.05 194.63L56.49 195.2L55.63 195.65L54.56 195.95L54.56 197.03L55.66 196.79L56.52 196.41L57.24 195.91L57.24 203.8Z" stroke-width="0.15"/>
<text x="370.82" y="21.7" font-size="18.3">0</text><text x="381.8 386.59" y="13" font-size="14.4">-8</text><path d="M367.65 21.7L367.65 9.07L366.22 9.07L365.8 10.04L365.09 10.77L363.99 11.34L362.64 11.73L362.64 13.1L364.03 12.79L365.12 12.31L366.04 11.67L366.04 21.7Z" stroke-width="0.15"/>
<text x="370.82" y="81.68" font-size="18.3">0</text><text x="381.8 386.59" y="72.98" font-size="14.4">-9</text><path d="M367.65 81.68L367.65 69.05L366.22 69.05L365.8 70.02L365.09 70.75L363.99 71.32L362.64 71.71L362.64 73.08L364.03 72.77L365.12 72.29L366.04 71.65L366.04 81.68Z" stroke-width="0.15"/>
<text x="362.81" y="141.66" font-size="18.3">0</text><text x="373.79 386.59" y="132.96" font-size="14.4">-0</text><path d="M359.64 141.66L359.64 129.03L358.21 129.03L357.79 130L357.08 130.73L355.98 131.3L354.63 131.69L354.63 133.06L356.02 132.75L357.12 132.27L358.03 131.63L358.03 141.66ZM384.1 132.96L384.1 123.02L382.97 123.02L382.64 123.79L382.08 124.36L381.22 124.81L380.15 125.11L380.15 126.19L381.25 125.95L382.11 125.57L382.83 125.07L382.83 132.96Z" stroke-width="0.15"/>
<text x="362.81" y="201.64" font-size="18.3">0</text><text x="373.79" y="192.94" font-size="14.4">-</text><path d="M359.64 201.64L359.64 189.01L358.21 189.01L357.79 189.98L357.08 190.71L355.98 191.28L354.63 191.67L354.63 193.04L356.02 192.73L357.12 192.25L358.03 191.61L358.03 201.64ZM384.1 192.94L384.1 183L382.97 183L382.64 183.77L382.08 184.34L381.22 184.79L380.15 185.09L380.15 186.17L381.25 185.93L382.11 185.55L382.83 185.05L382.83 192.94ZM392.11 192.94L392.11 183L390.98 183L390.65 183.77L390.09 184.34L389.23 184.79L388.16 185.09L388.16 186.17L389.26 185.93L390.12 185.55L390.84 185.05L390.84 192.94Z" stroke-width="0.15"/>
<text x="59.88" y="237.9" font-size="18.3">0</text><text x="70.86" y="229.2" font-size="14.4">-</text><path d="M56.71 237.9L56.71 225.27L55.28 225.27L54.86 226.24L54.15 226.97L53.05 227.54L51.69 227.93L51.69 229.3L53.09 228.99L54.18 228.51L55.1 227.87L55.1 237.9ZM81.17 229.2L81.17 219.26L80.04 219.26L79.71 220.03L79.15 220.6L78.29 221.05L77.22 221.35L77.22 222.43L78.31 222.19L79.18 221.81L79.9 221.31L79.9 229.2Z" stroke-width="0.15"/>
<text x="189.18" y="237.9" font-size="18.3">0</text><text x="200.16" y="229.2" font-size="14.4">0</text><path d="M186.01 237.9L186.01 225.27L184.58 225.27L184.16 226.24L183.45 226.97L182.35 227.54L180.99 227.93L180.99 229.3L182.39 228.99L183.48 228.51L184.4 227.87L184.4 237.9Z" stroke-width="0.15"/>
<text x="315.18" y="237.9" font-size="18.3">0</text><path d="M312.01 237.9L312.01 225.27L310.58 225.27L310.16 226.24L309.45 226.97L308.35 227.54L306.99 227.93L306.99 229.3L308.39 228.99L309.48 228.51L310.4 227.87L310.4 237.9ZM331.67 229.2L331.67 219.26L330.55 219.26L330.22 220.03L329.65 220.6L328.79 221.05L327.72 221.35L327.72 222.43L328.82 222.19L329.68 221.81L330.4 221.31L330.4 229.2Z" stroke-width="0.15"/>
<text x="393.48" y="238" font-size="18.3">0</text><text x="404.46 409.25" y="229.3" font-size="14.4">-7</text><path d="M390.31 238L390.31 225.37L388.88 225.37L388.46 226.34L387.75 227.07L386.65 227.64L385.29 228.03L385.29 229.4L386.69 229.09L387.78 228.61L388.7 227.97L388.7 238Z" stroke-width="0.15"/>
<text x="477.28" y="238" font-size="18.3">0</text><text x="488.26 493.05" y="229.3" font-size="14.4">-6</text><path d="M474.11 238L474.11 225.37L472.68 225.37L472.26 226.34L471.55 227.07L470.45 227.64L469.09 228.03L469.09 229.4L470.49 229.09L471.58 228.61L472.5 227.97L472.5 238Z" stroke-width="0.15"/>
<text x="561.08" y="238" font-size="18.3">0</text><text x="572.06 576.85" y="229.3" font-size="14.4">-5</text><path d="M557.91 238L557.91 225.37L556.48 225.37L556.06 226.34L555.35 227.07L554.25 227.64L552.89 228.03L552.89 229.4L554.29 229.09L555.38 228.61L556.3 227.97L556.3 238Z" stroke-width="0.15"/>
<text x="644.88" y="238" font-size="18.3">0</text><text x="655.86 660.65" y="229.3" font-size="14.4">-4</text><path d="M641.71 238L641.71 225.37L640.28 225.37L639.86 226.34L639.15 227.07L638.05 227.64L636.69 228.03L636.69 229.4L638.09 229.09L639.18 228.61L640.1 227.97L640.1 238Z" stroke-width="0.15"/>
<text x="52.02" y="270.9" font-size="18.3">0</text><path d="M48.85 270.9L48.85 258.27L47.43 258.27L47.01 259.24L46.29 259.97L45.19 260.54L43.84 260.93L43.84 262.3L45.23 261.99L46.33 261.51L47.24 260.87L47.24 270.9Z" stroke-width="0.15"/>
<text x="36.76 46.94 52.02" y="303.88" font-size="18.3">7.5</text>
<text x="52.02" y="336.87" font-size="18.3">5</text>
<text x="36.76 46.94 52.02" y="369.85" font-size="18.3">2.5</text>
<text x="52.02" y="402.83" font-size="18.3">0</text>
<text x="30.67 36.76 46.94 52.02" y="435.82" font-size="18.3">-2.5</text>
<text x="45.93 52.02" y="468.8" font-size="18.3">-5</text>
<text x="383.62" y="455.5" font-size="18.3">0</text>
<path d="M390.63 415.5L390.63 402.87L389.2 402.87L388.78 403.84L388.07 404.57L386.97 405.14L385.62 405.53L385.62 406.9L387.01 406.59L388.11 406.11L389.02 405.47L389.02 415.5Z" stroke-width="0.15"/>
<text x="383.62" y="375.5" font-size="18.3">2</text>
<text x="383.62" y="335.5" font-size="18.3">3</text>
<text x="383.62" y="295.5" font-size="18.3">4</text>
<text x="55.86 61.96 72.13 82.31" y="485.9" font-size="18.3">-500</text>
<text x="388.67 394.76 404.94 415.12" y="485.9" font-size="18.3">-500</text>
<text x="115.65 121.74 131.92 142.1" y="485.9" font-size="18.3">-250</text>
<text x="448.5 454.6 464.77 474.95" y="485.9" font-size="18.3">-250</text>
<text x="188.66" y="485.9" font-size="18.3">0</text>
<text x="521.56" y="485.9" font-size="18.3">0</text>
<text x="238.27 248.45 258.63" y="485.9" font-size="18.3">250</text>
<text x="571.22 581.4 591.57" y="485.9" font-size="18.3">250</text>
<text x="298.06 308.24 318.41" y="485.9" font-size="18.3">500</text>
<text x="631.05 641.23 651.41" y="485.9" font-size="18.3">500</text>
<text x="193.2" y="255.3" text-anchor="middle" font-size="20.1">Voltage / V</text>
<text x="526.6" y="258" text-anchor="middle" font-size="20.1">Current / A</text>
<text x="195.2" y="508.5" text-anchor="middle" font-size="20.1">B Field / μT</text>
<text x="526.5" y="508.8" text-anchor="middle" font-size="20.1">B Field / μT</text>
<text transform="translate(19.6 110.4) rotate(-90)" text-anchor="middle" font-size="20.1">Current / A</text>
<text transform="translate(351 118) rotate(-90)" text-anchor="middle" font-size="20.1">Electroluminescence / W</text>
<g transform="translate(23.4 365.8) rotate(-90)"><text x="-46.67" y="0" font-size="20.1">0</text><text x="-34.69" y="-9.9" font-size="15.8">4</text><text x="-20.32 -8.04 8.7 28.8 39.97" y="0" font-size="20.1">·MC/%</text><path d="M-50.15 0L-50.15 -13.87L-51.72 -13.87L-52.18 -12.8L-52.96 -12L-54.17 -11.38L-55.65 -10.95L-55.65 -9.45L-54.13 -9.79L-52.92 -10.31L-51.92 -11.01L-51.92 0Z" stroke-width="0.15"/></g>
<g transform="translate(352.9 363.6) rotate(-90)"><text x="-51.7" y="0" font-size="20.1">0</text><text x="-39.72" y="-9.5" font-size="15.8">2</text><text x="-25.35 -13.07 3.67 17.08 33.84 45.01" y="0" font-size="20.1">·MEL/%</text><path d="M-55.18 0L-55.18 -13.87L-56.75 -13.87L-57.21 -12.8L-58 -12L-59.2 -11.38L-60.69 -10.95L-60.69 -9.45L-59.16 -9.79L-57.96 -10.31L-56.95 -11.01L-56.95 0Z" stroke-width="0.15"/></g>
<text x="74" y="172.3" text-anchor="start" font-size="22.8" font-weight="bold" fill="#000">(a)</text>
<text x="407.4" y="173" text-anchor="start" font-size="22.8" font-weight="bold" fill="#000">(b)</text>
<text x="73.5" y="423.8" text-anchor="start" font-size="22.8" font-weight="bold" fill="#000">(c)</text>
<text x="406.5" y="424" text-anchor="start" font-size="22.8" font-weight="bold" fill="#000">(d)</text>
</g>
</svg>
</body></html>
